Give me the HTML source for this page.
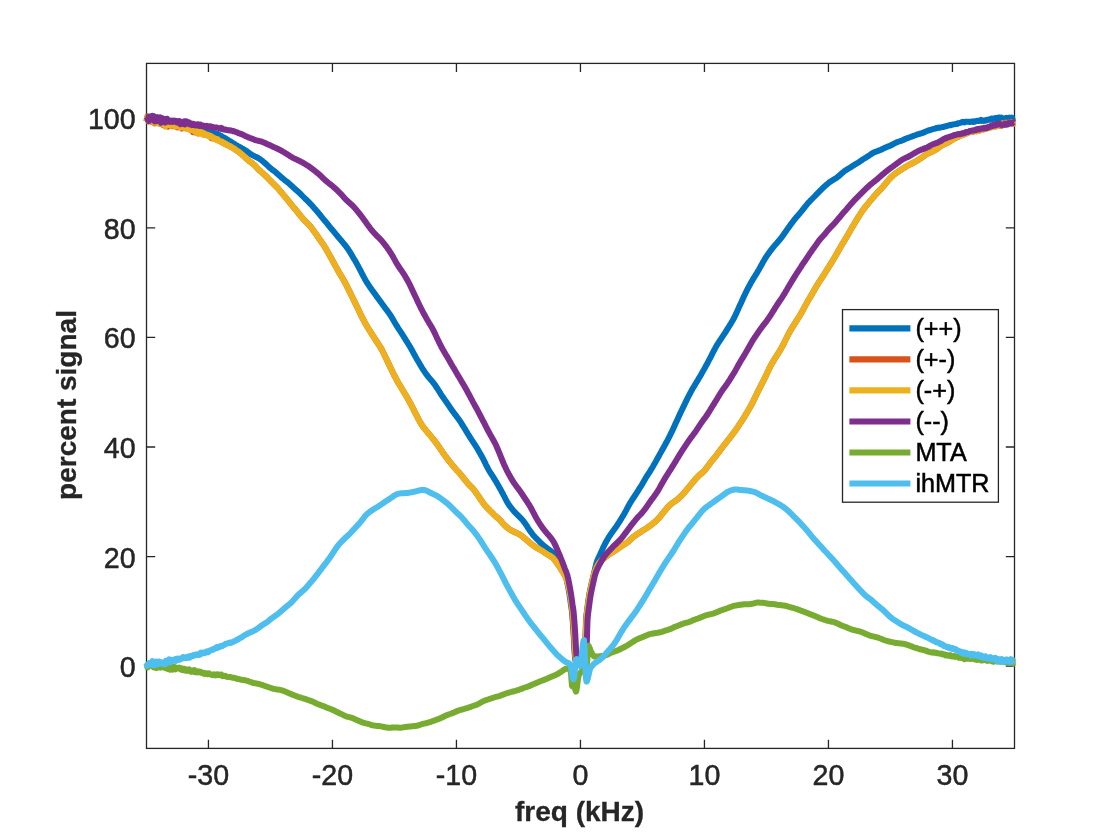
<!DOCTYPE html>
<html lang="en">
<head>
<meta charset="utf-8">
<title>MT spectra</title>
<style>
html,body{margin:0;padding:0;background:#fff;}
body{width:1120px;height:840px;overflow:hidden;}
svg{display:block;}
text{font-family:"Liberation Sans",Arial,Helvetica,sans-serif;}
.tk{font-size:28.6px;fill:#262626;stroke:#262626;stroke-width:0.5px;}
.lb{font-size:28px;font-weight:bold;fill:#262626;stroke:#262626;stroke-width:0.3px;}
.lg{font-size:25.2px;fill:#000;stroke:#000;stroke-width:0.5px;}
</style>
</head>
<body>
<svg width="1120" height="840" viewBox="0 0 1120 840">
<rect x="0" y="0" width="1120" height="840" fill="#fff"/>
<g stroke="#262626" stroke-width="1.3" fill="none" stroke-linecap="butt">
<rect x="146.5" y="63.4" width="868.0" height="685.0"/>
<path d="M208.45,748.4 v-8.7 M208.45,63.4 v8.7"/>
<path d="M332.45,748.4 v-8.7 M332.45,63.4 v8.7"/>
<path d="M456.45,748.4 v-8.7 M456.45,63.4 v8.7"/>
<path d="M580.45,748.4 v-8.7 M580.45,63.4 v8.7"/>
<path d="M704.45,748.4 v-8.7 M704.45,63.4 v8.7"/>
<path d="M828.45,748.4 v-8.7 M828.45,63.4 v8.7"/>
<path d="M952.45,748.4 v-8.7 M952.45,63.4 v8.7"/>
<path d="M146.5,666.20 h8.7 M1014.5,666.20 h-8.7"/>
<path d="M146.5,556.60 h8.7 M1014.5,556.60 h-8.7"/>
<path d="M146.5,447.00 h8.7 M1014.5,447.00 h-8.7"/>
<path d="M146.5,337.40 h8.7 M1014.5,337.40 h-8.7"/>
<path d="M146.5,227.80 h8.7 M1014.5,227.80 h-8.7"/>
<path d="M146.5,118.20 h8.7 M1014.5,118.20 h-8.7"/>
</g>
<defs><clipPath id="plotclip"><rect x="142.6" y="60" width="873.0" height="692"/></clipPath></defs>
<g fill="none" stroke-width="6.0" stroke-linejoin="round" stroke-linecap="butt" clip-path="url(#plotclip)">
<path stroke="#0072BD" d="M146.5,119.2 147.0,118.2 147.5,118.0 148.0,119.1 148.5,120.0 149.0,119.1 149.5,118.2 150.0,116.7 150.5,117.6 151.0,117.7 151.5,120.0 152.0,115.9 152.5,119.2 153.0,118.0 153.5,119.2 154.0,116.3 154.5,118.5 155.0,119.5 155.5,119.0 156.0,120.2 156.5,119.8 157.0,119.7 157.5,118.1 158.0,119.2 158.5,119.1 159.0,119.9 159.5,123.6 160.0,120.0 160.5,121.2 161.0,121.1 161.5,121.5 162.0,121.5 162.5,118.4 163.0,120.8 163.5,119.1 164.0,119.3 164.5,122.1 165.0,120.9 165.5,119.9 166.0,119.8 166.5,121.4 167.0,119.4 167.5,123.0 168.0,122.2 168.5,122.6 169.0,122.9 169.5,122.6 170.0,123.0 170.5,121.4 171.0,122.0 171.5,121.1 172.0,123.7 172.5,122.3 173.0,122.7 173.5,121.6 174.0,122.1 174.5,122.3 175.0,122.0 175.5,122.0 176.0,124.0 176.5,122.9 177.0,123.8 177.5,123.7 178.0,123.5 178.5,123.8 179.0,125.0 179.5,124.5 180.0,123.7 180.5,124.0 181.0,124.3 181.5,124.1 182.0,126.0 182.5,125.1 183.0,126.4 183.5,124.6 184.0,124.8 184.5,126.9 185.0,124.2 185.5,124.8 186.0,124.7 186.5,125.3 187.0,125.7 187.5,126.3 188.0,126.5 188.5,125.5 189.0,126.0 189.5,125.0 190.0,126.4 190.5,125.1 191.0,127.2 191.5,125.0 192.0,126.8 192.5,126.6 193.0,125.9 193.5,128.0 194.0,126.5 194.5,128.3 195.0,127.1 195.5,127.5 196.0,126.3 196.5,127.3 197.0,128.0 197.5,127.7 198.0,127.9 198.5,127.8 199.0,128.5 199.5,128.4 200.0,130.3 200.5,128.6 201.0,129.2 201.5,129.6 202.0,129.4 202.5,129.8 203.0,129.1 203.5,129.4 204.0,129.4 204.5,129.3 205.0,130.6 205.5,130.3 206.0,129.3 206.5,130.6 207.0,131.4 207.5,130.9 208.0,131.3 208.5,131.5 209.0,131.6 209.5,131.2 210.0,131.5 210.5,131.8 211.0,132.5 211.5,132.1 212.0,131.7 212.5,132.9 213.0,132.6 213.5,132.8 214.0,132.9 214.5,133.7 215.0,133.4 215.5,133.6 216.0,134.2 216.5,134.1 217.0,134.0 217.5,133.8 218.0,134.9 218.5,135.6 219.0,134.7 219.5,135.0 220.0,135.5 220.5,136.1 221.0,136.3 221.5,136.1 222.0,136.7 222.5,137.4 223.0,137.1 223.5,137.9 224.0,137.6 224.5,138.0 225.0,138.5 225.5,138.7 226.0,138.5 226.5,139.4 227.0,139.6 227.5,140.1 228.0,139.8 228.5,140.6 229.0,140.7 229.5,141.4 230.0,141.1 230.5,141.5 231.0,141.9 231.5,142.1 232.0,142.7 232.5,143.0 233.0,142.9 233.5,143.5 234.0,143.9 234.5,144.2 235.0,144.3 235.5,144.8 236.0,145.1 236.5,145.3 237.0,145.7 237.5,145.8 238.0,146.3 238.5,146.5 239.0,146.9 239.5,146.8 240.0,147.3 240.5,147.6 241.0,147.9 241.5,148.1 242.0,148.5 242.5,148.7 243.0,148.9 243.5,149.3 244.0,149.6 244.5,149.8 245.0,150.1 245.5,150.4 246.0,150.8 246.5,151.1 247.0,151.3 247.5,151.8 248.0,152.0 248.5,152.5 249.0,152.8 249.5,153.2 250.0,153.5 250.5,153.9 251.0,154.3 251.5,154.5 252.0,154.9 252.5,155.2 253.0,155.5 253.5,155.7 254.0,156.0 254.5,156.3 255.0,156.5 255.5,156.7 256.0,156.9 256.5,157.2 257.0,157.4 257.5,157.6 258.0,157.9 258.5,158.2 259.0,158.5 259.5,158.8 260.0,159.1 261.0,159.9 262.0,160.6 263.0,161.5 264.0,162.3 265.0,163.2 266.0,164.1 267.0,165.0 268.0,166.0 269.0,166.9 270.0,167.8 271.0,168.7 272.0,169.5 273.0,170.2 274.0,170.9 275.0,171.7 276.0,172.5 277.0,173.4 278.0,174.3 279.0,175.2 280.0,176.1 281.0,177.0 282.0,177.9 283.0,178.7 284.0,179.5 285.0,180.3 286.0,181.1 287.0,181.8 288.0,182.6 289.0,183.5 290.0,184.3 291.0,185.3 292.0,186.2 293.0,187.2 294.0,188.1 295.0,189.0 296.0,189.9 297.0,190.7 298.0,191.6 299.0,192.5 300.0,193.4 301.0,194.4 302.0,195.5 303.0,196.5 304.0,197.5 305.0,198.5 306.0,199.4 307.0,200.4 308.0,201.3 309.0,202.3 310.0,203.4 311.0,204.5 312.0,205.6 313.0,206.7 314.0,207.9 315.0,209.0 316.0,210.1 317.0,211.3 318.0,212.4 319.0,213.7 320.0,214.9 321.0,216.2 322.0,217.4 323.0,218.6 324.0,219.8 325.0,221.0 326.0,222.2 327.0,223.4 328.0,224.6 329.0,225.9 330.0,227.1 331.0,228.3 332.0,229.5 333.0,230.7 334.0,231.9 335.0,233.1 336.0,234.3 337.0,235.5 338.0,236.8 339.0,237.9 340.0,239.1 341.0,240.3 342.0,241.4 343.0,242.6 344.0,243.8 345.0,245.0 346.0,246.3 347.0,247.7 348.0,249.1 349.0,250.6 350.0,252.2 351.0,253.8 352.0,255.5 353.0,257.2 354.0,258.9 355.0,260.6 356.0,262.3 357.0,264.1 358.0,265.9 359.0,267.8 360.0,269.7 361.0,271.7 362.0,273.6 363.0,275.5 364.0,277.4 365.0,279.2 366.0,281.0 367.0,282.6 368.0,284.2 369.0,285.7 370.0,287.2 371.0,288.6 372.0,290.0 373.0,291.3 374.0,292.7 375.0,294.1 376.0,295.5 377.0,296.9 378.0,298.2 379.0,299.6 380.0,300.9 381.0,302.3 382.0,303.7 383.0,305.1 384.0,306.4 385.0,307.8 386.0,309.1 387.0,310.4 388.0,311.8 389.0,313.2 390.0,314.6 391.0,316.2 392.0,317.8 393.0,319.5 394.0,321.2 395.0,322.9 396.0,324.6 397.0,326.2 398.0,327.8 399.0,329.3 400.0,330.8 401.0,332.3 402.0,333.9 403.0,335.5 404.0,337.1 405.0,338.7 406.0,340.3 407.0,341.9 408.0,343.5 409.0,345.1 410.0,346.8 411.0,348.5 412.0,350.3 413.0,352.1 414.0,354.0 415.0,355.8 416.0,357.6 417.0,359.4 418.0,361.1 419.0,362.8 420.0,364.5 421.0,366.2 422.0,367.8 423.0,369.3 424.0,370.9 425.0,372.4 426.0,373.8 427.0,375.2 428.0,376.5 429.0,377.7 430.0,378.8 431.0,380.0 432.0,381.1 433.0,382.3 434.0,383.6 435.0,385.0 436.0,386.5 437.0,388.0 438.0,389.5 439.0,391.1 440.0,392.7 441.0,394.3 442.0,395.8 443.0,397.3 444.0,398.7 445.0,400.2 446.0,401.6 447.0,403.0 448.0,404.4 449.0,405.9 450.0,407.4 451.0,408.8 452.0,410.3 453.0,411.7 454.0,413.0 455.0,414.3 456.0,415.6 457.0,417.0 458.0,418.3 459.0,419.7 460.0,421.2 461.0,422.7 462.0,424.3 463.0,425.9 464.0,427.5 465.0,429.1 466.0,430.8 467.0,432.4 468.0,434.1 469.0,435.7 470.0,437.3 471.0,438.9 472.0,440.4 473.0,441.9 474.0,443.4 475.0,444.9 476.0,446.5 477.0,448.1 478.0,449.8 479.0,451.5 480.0,453.2 481.0,455.0 482.0,456.8 483.0,458.7 484.0,460.7 485.0,462.7 486.0,464.8 487.0,466.7 488.0,468.6 489.0,470.4 490.0,472.1 491.0,473.6 492.0,475.2 493.0,476.7 494.0,478.3 495.0,479.9 496.0,481.6 497.0,483.3 498.0,485.1 499.0,486.8 500.0,488.6 501.0,490.3 502.0,492.2 503.0,494.0 504.0,496.0 505.0,497.9 506.0,499.9 507.0,501.7 508.0,503.4 509.0,505.0 510.0,506.4 511.0,507.7 512.0,508.9 513.0,510.1 514.0,511.3 515.0,512.4 516.0,513.4 517.0,514.4 518.0,515.4 519.0,516.3 520.0,517.3 521.0,518.3 522.0,519.4 523.0,520.6 524.0,521.9 525.0,523.3 526.0,524.7 527.0,526.2 528.0,527.8 529.0,529.3 530.0,530.8 531.0,532.2 532.0,533.5 533.0,534.8 534.0,536.0 535.0,537.1 536.0,538.1 537.0,539.2 538.0,540.2 539.0,541.2 540.0,542.2 541.0,543.1 542.0,544.1 543.0,545.0 544.0,545.8 545.0,546.6 546.0,547.4 547.0,548.2 548.0,548.9 549.0,549.7 550.0,550.4 551.0,551.2 552.0,552.0 553.0,552.6 554.0,553.2 555.0,553.9 556.0,554.5 557.0,555.3 558.0,556.3 559.0,557.5 560.0,559.3 560.2,559.8 560.4,560.3 560.6,560.8 560.8,561.4 561.0,561.9 561.0,561.9 561.2,562.5 561.4,563.1 561.6,563.7 561.8,564.3 562.0,564.9 562.0,564.9 562.2,565.5 562.4,566.2 562.6,566.7 562.8,567.3 563.0,567.9 563.0,567.9 563.2,568.5 563.4,569.0 563.6,569.5 563.8,570.0 564.0,570.5 564.0,570.5 564.2,571.0 564.4,571.4 564.6,571.9 564.8,572.4 565.0,572.9 565.0,572.9 565.2,573.5 565.4,574.1 565.6,574.7 565.8,575.4 566.0,576.1 566.0,576.1 566.2,577.0 566.4,577.8 566.6,578.8 566.8,579.7 567.0,580.7 567.0,580.7 567.2,581.7 567.4,582.8 567.6,583.8 567.8,584.8 568.0,585.8 568.0,585.8 568.2,586.9 568.4,588.0 568.6,589.1 568.8,590.2 569.0,591.4 569.0,591.4 569.2,592.6 569.4,593.8 569.6,595.0 569.8,596.4 570.0,597.7 570.0,597.7 570.2,599.2 570.4,600.7 570.6,602.2 570.8,603.6 571.0,605.0 571.0,605.0 571.2,606.2 571.4,607.4 571.6,608.8 571.8,610.3 572.0,611.8 572.0,611.8 572.2,614.0 572.4,616.3 572.6,618.8 572.8,621.4 573.0,624.1 573.0,624.1 573.2,627.1 573.4,630.2 573.6,633.5 573.8,637.1 574.0,640.6 574.0,640.6 574.2,644.7 574.4,648.7 574.6,652.0 574.8,654.5 575.0,657.0 575.0,657.0 575.2,658.5 575.4,660.0 575.6,660.9 575.8,661.2 576.0,661.6 576.0,661.6 576.2,661.8 576.4,662.1 576.6,662.3 576.8,662.5 577.0,662.7 577.0,662.7 577.2,662.9 577.4,663.1 577.6,663.2 577.8,663.3 578.0,663.5 578.0,663.5 578.2,663.6 578.4,663.7 578.6,663.7 578.8,663.8 579.0,663.9 579.0,663.9 579.2,663.9 579.4,664.0 579.6,664.0 579.8,664.0 580.0,664.0 580.0,664.0 580.2,664.0 580.4,664.0 580.6,664.0 580.8,663.9 581.0,663.9 581.0,663.9 581.2,663.8 581.4,663.8 581.6,663.7 581.8,663.6 582.0,663.5 582.0,663.5 582.2,663.4 582.4,663.2 582.6,663.1 582.8,662.9 583.0,662.7 583.0,662.7 583.2,662.5 583.4,662.3 583.6,662.0 583.8,661.7 584.0,661.5 584.0,661.5 584.2,660.8 584.4,660.1 584.6,658.2 584.8,655.1 585.0,651.9 585.0,651.9 585.2,645.8 585.4,639.6 585.6,633.2 585.8,626.6 586.0,620.0 586.0,620.0 586.2,617.8 586.4,615.6 586.6,613.8 586.8,612.3 587.0,610.8 587.0,610.8 587.2,609.2 587.4,607.6 587.6,606.0 587.8,604.5 588.0,603.0 588.0,603.0 588.2,601.6 588.4,600.1 588.6,598.8 588.8,597.5 589.0,596.2 589.0,596.2 589.2,595.0 589.4,593.9 589.6,592.8 589.8,591.8 590.0,590.7 590.0,590.7 590.2,589.8 590.4,588.8 590.6,587.9 590.8,587.0 591.0,586.1 591.0,586.1 591.2,585.2 591.4,584.3 591.6,583.4 591.8,582.6 592.0,581.7 592.0,581.7 592.2,580.9 592.4,580.1 592.6,579.3 592.8,578.5 593.0,577.7 593.0,577.7 593.2,576.9 593.4,576.1 593.6,575.2 593.8,574.4 594.0,573.6 594.0,573.6 594.2,572.7 594.4,571.8 594.6,570.9 594.8,570.0 595.0,569.1 595.0,569.1 595.2,568.2 595.4,567.2 595.6,566.4 595.8,565.5 596.0,564.7 596.0,564.7 596.2,564.0 596.4,563.3 596.6,562.6 596.8,562.0 597.0,561.4 597.0,561.4 597.2,560.9 597.4,560.4 597.6,559.8 597.8,559.4 598.0,558.9 598.0,558.9 598.2,558.4 598.4,558.0 598.6,557.5 598.8,557.1 599.0,556.7 599.0,556.7 599.2,556.2 599.4,555.8 599.6,555.4 599.8,555.0 600.0,554.6 600.0,554.6 600.2,554.1 600.4,553.7 600.6,553.3 600.8,552.8 601.0,552.4 601.0,552.4 601.2,552.0 601.4,551.5 601.6,551.1 601.8,550.7 602.0,550.3 603.0,547.8 604.0,545.8 605.0,543.9 606.0,542.0 607.0,540.2 608.0,538.5 609.0,536.8 610.0,535.3 611.0,533.8 612.0,532.4 613.0,531.1 614.0,529.7 615.0,528.3 616.0,526.9 617.0,525.5 618.0,523.9 619.0,522.4 620.0,520.8 621.0,519.2 622.0,517.5 623.0,515.9 624.0,514.2 625.0,512.4 626.0,510.6 627.0,508.7 628.0,506.8 629.0,505.0 630.0,503.2 631.0,501.6 632.0,500.0 633.0,498.5 634.0,497.0 635.0,495.5 636.0,494.0 637.0,492.4 638.0,490.8 639.0,489.2 640.0,487.6 641.0,486.1 642.0,484.5 643.0,482.8 644.0,481.1 645.0,479.3 646.0,477.6 647.0,475.9 648.0,474.3 649.0,472.8 650.0,471.3 651.0,469.7 652.0,468.1 653.0,466.4 654.0,464.6 655.0,462.9 656.0,461.1 657.0,459.3 658.0,457.5 659.0,455.7 660.0,453.9 661.0,452.1 662.0,450.3 663.0,448.5 664.0,446.7 665.0,444.9 666.0,443.0 667.0,441.2 668.0,439.3 669.0,437.3 670.0,435.4 671.0,433.3 672.0,431.3 673.0,429.2 674.0,427.0 675.0,424.8 676.0,422.6 677.0,420.4 678.0,418.2 679.0,416.0 680.0,413.9 681.0,411.8 682.0,409.7 683.0,407.6 684.0,405.6 685.0,403.5 686.0,401.4 687.0,399.4 688.0,397.3 689.0,395.4 690.0,393.5 691.0,391.6 692.0,389.8 693.0,388.1 694.0,386.4 695.0,384.7 696.0,383.0 697.0,381.4 698.0,379.8 699.0,378.1 700.0,376.4 701.0,374.7 702.0,372.9 703.0,371.1 704.0,369.4 705.0,367.6 706.0,365.8 707.0,364.0 708.0,362.1 709.0,360.2 710.0,358.3 711.0,356.3 712.0,354.3 713.0,352.4 714.0,350.5 715.0,348.6 716.0,346.8 717.0,345.1 718.0,343.4 719.0,341.9 720.0,340.3 721.0,338.9 722.0,337.4 723.0,335.9 724.0,334.4 725.0,332.9 726.0,331.3 727.0,329.7 728.0,328.1 729.0,326.5 730.0,324.9 731.0,323.3 732.0,321.6 733.0,319.9 734.0,318.0 735.0,316.0 736.0,313.9 737.0,311.8 738.0,309.6 739.0,307.3 740.0,305.1 741.0,302.9 742.0,300.7 743.0,298.5 744.0,296.3 745.0,294.2 746.0,292.2 747.0,290.2 748.0,288.2 749.0,286.3 750.0,284.5 751.0,282.6 752.0,280.9 753.0,279.2 754.0,277.6 755.0,276.0 756.0,274.4 757.0,272.8 758.0,271.1 759.0,269.4 760.0,267.6 761.0,265.8 762.0,264.0 763.0,262.1 764.0,260.4 765.0,258.7 766.0,257.1 767.0,255.6 768.0,254.2 769.0,252.8 770.0,251.4 771.0,250.1 772.0,248.8 773.0,247.5 774.0,246.3 775.0,245.1 776.0,244.0 777.0,242.9 778.0,241.7 779.0,240.6 780.0,239.4 781.0,238.1 782.0,236.8 783.0,235.4 784.0,234.0 785.0,232.6 786.0,231.2 787.0,229.7 788.0,228.3 789.0,226.9 790.0,225.5 791.0,224.1 792.0,222.8 793.0,221.5 794.0,220.2 795.0,218.9 796.0,217.7 797.0,216.5 798.0,215.4 799.0,214.3 800.0,213.1 801.0,211.9 802.0,210.7 803.0,209.4 804.0,208.1 805.0,206.8 806.0,205.6 807.0,204.4 808.0,203.2 809.0,202.1 810.0,201.1 811.0,200.0 812.0,199.0 813.0,198.0 814.0,197.0 815.0,196.0 816.0,194.9 817.0,193.9 818.0,192.9 819.0,191.8 820.0,190.8 821.0,189.8 822.0,188.8 823.0,187.8 824.0,186.9 825.0,186.0 826.0,185.2 827.0,184.3 828.0,183.5 829.0,182.7 830.0,181.9 831.0,181.3 832.0,180.6 833.0,180.0 834.0,179.4 835.0,178.8 836.0,178.2 837.0,177.5 838.0,176.7 839.0,175.9 840.0,175.0 841.0,174.1 842.0,173.1 843.0,172.3 844.0,171.5 845.0,170.7 846.0,170.1 847.0,169.5 848.0,168.9 849.0,168.3 850.0,167.7 851.0,167.0 852.0,166.4 853.0,165.7 854.0,165.1 855.0,164.5 856.0,163.9 857.0,163.3 858.0,162.7 859.0,162.1 860.0,161.4 861.0,160.7 862.0,160.0 863.0,159.3 864.0,158.7 865.0,158.1 866.0,157.5 867.0,156.9 868.0,156.2 869.0,155.6 870.0,154.9 871.0,154.2 872.0,153.5 873.0,153.0 874.0,152.4 875.0,152.0 876.0,151.6 877.0,151.3 878.0,150.9 879.0,150.5 880.0,150.1 881.0,149.7 882.0,149.2 883.0,148.7 884.0,148.3 885.0,147.8 886.0,147.4 887.0,146.9 888.0,146.5 889.0,146.1 890.0,145.7 891.0,145.2 892.0,144.7 893.0,144.2 894.0,143.6 895.0,143.1 896.0,142.6 897.0,142.2 898.0,141.8 899.0,141.5 900.0,141.2 900.5,141.0 901.0,140.9 901.5,140.7 902.0,140.5 902.5,140.3 903.0,140.1 903.5,139.8 904.0,139.6 904.5,139.4 905.0,139.1 905.5,138.9 906.0,138.7 906.5,138.5 907.0,138.3 907.5,138.1 908.0,137.9 908.5,137.7 909.0,137.5 909.5,137.4 910.0,137.2 910.5,137.0 911.0,136.8 911.5,136.7 912.0,136.5 912.5,136.3 913.0,136.1 913.5,135.9 914.0,135.7 914.5,135.5 915.0,135.4 915.5,135.1 916.0,135.0 916.5,134.8 917.0,134.6 917.5,134.4 918.0,134.3 918.5,134.1 919.0,134.0 919.5,133.8 920.0,133.7 920.5,133.6 921.0,133.4 921.5,133.2 922.0,133.1 922.5,132.9 923.0,132.7 923.5,132.6 924.0,132.4 924.5,132.1 925.0,131.9 925.5,131.7 926.0,131.4 926.5,131.3 927.0,131.0 927.5,130.8 928.0,130.6 928.5,130.6 929.0,130.2 929.5,130.1 930.0,130.1 930.5,129.9 931.0,129.6 931.5,129.5 932.0,129.4 932.5,129.2 933.0,129.1 933.5,129.0 934.0,128.7 934.5,128.7 935.0,128.6 935.5,128.5 936.0,128.1 936.5,128.2 937.0,128.1 937.5,127.8 938.0,127.8 938.5,127.8 939.0,127.6 939.5,127.7 940.0,127.6 940.5,127.5 941.0,127.3 941.5,127.3 942.0,127.1 942.5,127.0 943.0,126.9 943.5,126.9 944.0,126.7 944.5,126.5 945.0,126.4 945.5,126.4 946.0,126.1 946.5,126.2 947.0,125.9 947.5,125.7 948.0,125.6 948.5,125.5 949.0,125.3 949.5,125.3 950.0,125.1 950.5,124.9 951.0,125.1 951.5,124.7 952.0,124.7 952.5,124.5 953.0,124.4 953.5,124.5 954.0,124.2 954.5,124.2 955.0,124.1 955.5,124.0 956.0,123.9 956.5,124.0 957.0,123.8 957.5,123.8 958.0,123.3 958.5,123.2 959.0,123.3 959.5,123.0 960.0,122.9 960.5,122.7 961.0,122.5 961.5,122.4 962.0,122.3 962.5,121.9 963.0,122.2 963.5,122.1 964.0,122.0 964.5,122.3 965.0,121.8 965.5,121.8 966.0,121.9 966.5,121.8 967.0,121.8 967.5,121.7 968.0,121.8 968.5,121.8 969.0,121.8 969.5,122.0 970.0,122.0 970.5,121.8 971.0,121.7 971.5,121.6 972.0,121.8 972.5,121.9 973.0,121.6 973.5,121.3 974.0,121.8 974.5,121.5 975.0,121.7 975.5,121.3 976.0,121.1 976.5,121.1 977.0,120.8 977.5,120.8 978.0,120.9 978.5,120.8 979.0,120.7 979.5,120.9 980.0,120.8 980.5,120.5 981.0,119.9 981.5,120.3 982.0,120.8 982.5,120.4 983.0,120.5 983.5,120.4 984.0,120.8 984.5,120.4 985.0,120.6 985.5,120.2 986.0,120.3 986.5,120.4 987.0,119.7 987.5,119.7 988.0,119.8 988.5,119.7 989.0,119.7 989.5,119.3 990.0,119.6 990.5,119.8 991.0,119.4 991.5,118.7 992.0,119.0 992.5,119.5 993.0,118.6 993.5,118.6 994.0,118.5 994.5,118.8 995.0,118.8 995.5,118.2 996.0,119.1 996.5,118.2 997.0,118.6 997.5,118.3 998.0,118.3 998.5,117.6 999.0,117.6 999.5,118.6 1000.0,117.6 1000.5,118.4 1001.0,118.4 1001.5,117.8 1002.0,118.7 1002.5,118.3 1003.0,118.7 1003.5,118.5 1004.0,118.7 1004.5,118.9 1005.0,118.9 1005.5,118.1 1006.0,118.8 1006.5,118.8 1007.0,117.9 1007.5,118.7 1008.0,118.0 1008.5,118.1 1009.0,118.5 1009.5,117.7 1010.0,118.7 1010.5,118.2 1011.0,118.4 1011.5,119.0 1012.0,117.7 1012.5,118.8 1013.0,118.5 1013.5,119.0 1014.0,118.5 1014.3,117.8"/>
<path stroke="#D95319" d="M146.5,121.4 147.0,118.1 147.5,116.3 148.0,118.1 148.5,121.5 149.0,119.7 149.5,119.1 150.0,119.9 150.5,120.2 151.0,121.2 151.5,120.2 152.0,121.9 152.5,119.7 153.0,120.5 153.5,120.0 154.0,120.9 154.5,123.5 155.0,119.1 155.5,119.4 156.0,120.6 156.5,122.8 157.0,121.9 157.5,120.7 158.0,121.9 158.5,120.3 159.0,120.6 159.5,121.2 160.0,122.7 160.5,121.8 161.0,122.4 161.5,123.8 162.0,122.0 162.5,124.1 163.0,121.7 163.5,125.3 164.0,121.6 164.5,121.1 165.0,123.7 165.5,123.4 166.0,124.6 166.5,124.9 167.0,122.6 167.5,124.2 168.0,126.8 168.5,124.0 169.0,126.1 169.5,124.6 170.0,124.2 170.5,123.5 171.0,124.0 171.5,123.2 172.0,126.2 172.5,124.7 173.0,124.2 173.5,125.8 174.0,124.2 174.5,125.7 175.0,126.1 175.5,126.4 176.0,126.0 176.5,127.0 177.0,125.8 177.5,126.6 178.0,127.3 178.5,126.5 179.0,127.2 179.5,124.4 180.0,127.0 180.5,127.1 181.0,126.6 181.5,127.6 182.0,128.5 182.5,127.5 183.0,127.7 183.5,126.9 184.0,126.8 184.5,127.3 185.0,126.5 185.5,127.4 186.0,128.2 186.5,127.6 187.0,127.6 187.5,127.4 188.0,128.9 188.5,128.3 189.0,128.5 189.5,129.0 190.0,129.6 190.5,128.5 191.0,129.1 191.5,130.4 192.0,129.6 192.5,130.5 193.0,132.1 193.5,129.9 194.0,131.1 194.5,131.6 195.0,132.3 195.5,131.6 196.0,131.0 196.5,131.3 197.0,132.0 197.5,131.3 198.0,133.5 198.5,132.0 199.0,133.3 199.5,133.1 200.0,132.9 200.5,133.2 201.0,132.4 201.5,133.0 202.0,133.6 202.5,133.5 203.0,133.8 203.5,133.8 204.0,134.4 204.5,133.6 205.0,134.3 205.5,134.8 206.0,134.4 206.5,134.5 207.0,135.3 207.5,135.5 208.0,135.1 208.5,135.3 209.0,136.0 209.5,136.5 210.0,136.1 210.5,136.3 211.0,137.1 211.5,138.2 212.0,137.3 212.5,137.4 213.0,137.5 213.5,138.5 214.0,138.2 214.5,137.9 215.0,138.3 215.5,138.5 216.0,139.0 216.5,139.4 217.0,139.8 217.5,139.5 218.0,140.2 218.5,139.8 219.0,140.6 219.5,140.7 220.0,141.1 220.5,140.8 221.0,141.3 221.5,141.7 222.0,142.4 222.5,142.4 223.0,142.9 223.5,143.0 224.0,143.5 224.5,143.5 225.0,144.1 225.5,144.1 226.0,144.2 226.5,144.8 227.0,145.0 227.5,145.0 228.0,145.5 228.5,145.3 229.0,145.9 229.5,145.7 230.0,146.4 230.5,146.3 231.0,146.8 231.5,147.1 232.0,147.3 232.5,147.4 233.0,147.9 233.5,148.2 234.0,148.7 234.5,148.9 235.0,149.2 235.5,149.8 236.0,149.9 236.5,150.4 237.0,150.3 237.5,150.8 238.0,151.3 238.5,151.6 239.0,152.0 239.5,152.5 240.0,153.0 240.5,153.3 241.0,153.6 241.5,154.0 242.0,154.5 242.5,155.2 243.0,155.4 243.5,155.9 244.0,156.4 244.5,157.0 245.0,157.3 245.5,157.9 246.0,158.3 246.5,158.7 247.0,159.2 247.5,159.6 248.0,160.0 248.5,160.4 249.0,160.9 249.5,161.3 250.0,161.6 250.5,161.9 251.0,162.3 251.5,162.7 252.0,163.0 252.5,163.4 253.0,163.9 253.5,164.2 254.0,164.7 254.5,165.2 255.0,165.7 255.5,166.2 256.0,166.7 256.5,167.2 257.0,167.8 257.5,168.3 258.0,168.8 258.5,169.3 259.0,169.8 259.5,170.3 260.0,170.7 261.0,171.7 262.0,172.5 263.0,173.4 264.0,174.3 265.0,175.3 266.0,176.2 267.0,177.2 268.0,178.3 269.0,179.3 270.0,180.3 271.0,181.4 272.0,182.4 273.0,183.4 274.0,184.4 275.0,185.4 276.0,186.4 277.0,187.4 278.0,188.4 279.0,189.6 280.0,190.8 281.0,192.0 282.0,193.2 283.0,194.4 284.0,195.6 285.0,196.7 286.0,197.9 287.0,199.1 288.0,200.3 289.0,201.6 290.0,202.9 291.0,204.2 292.0,205.4 293.0,206.6 294.0,207.8 295.0,209.0 296.0,210.2 297.0,211.4 298.0,212.7 299.0,214.0 300.0,215.2 301.0,216.5 302.0,217.6 303.0,218.8 304.0,219.9 305.0,220.9 306.0,221.9 307.0,222.9 308.0,223.9 309.0,224.9 310.0,226.0 311.0,227.2 312.0,228.5 313.0,229.9 314.0,231.3 315.0,232.7 316.0,234.1 317.0,235.5 318.0,237.0 319.0,238.4 320.0,239.8 321.0,241.3 322.0,242.7 323.0,244.2 324.0,245.7 325.0,247.3 326.0,248.9 327.0,250.7 328.0,252.4 329.0,254.2 330.0,256.0 331.0,257.8 332.0,259.6 333.0,261.4 334.0,263.2 335.0,265.1 336.0,266.9 337.0,268.8 338.0,270.5 339.0,272.3 340.0,273.9 341.0,275.6 342.0,277.2 343.0,278.9 344.0,280.7 345.0,282.5 346.0,284.5 347.0,286.4 348.0,288.4 349.0,290.4 350.0,292.4 351.0,294.5 352.0,296.5 353.0,298.5 354.0,300.6 355.0,302.6 356.0,304.7 357.0,306.7 358.0,308.8 359.0,310.9 360.0,313.0 361.0,315.1 362.0,317.1 363.0,319.0 364.0,320.9 365.0,322.8 366.0,324.6 367.0,326.3 368.0,328.0 369.0,329.6 370.0,331.2 371.0,332.7 372.0,334.3 373.0,335.9 374.0,337.4 375.0,339.0 376.0,340.5 377.0,342.0 378.0,343.5 379.0,345.0 380.0,346.6 381.0,348.2 382.0,350.0 383.0,352.0 384.0,354.0 385.0,356.1 386.0,358.2 387.0,360.3 388.0,362.4 389.0,364.5 390.0,366.6 391.0,368.7 392.0,370.7 393.0,372.8 394.0,374.8 395.0,376.7 396.0,378.6 397.0,380.4 398.0,382.2 399.0,383.9 400.0,385.6 401.0,387.3 402.0,389.0 403.0,390.6 404.0,392.3 405.0,394.0 406.0,395.6 407.0,397.3 408.0,399.1 409.0,400.8 410.0,402.7 411.0,404.5 412.0,406.5 413.0,408.4 414.0,410.4 415.0,412.3 416.0,414.3 417.0,416.2 418.0,418.2 419.0,420.1 420.0,421.9 421.0,423.6 422.0,425.2 423.0,426.7 424.0,428.0 425.0,429.2 426.0,430.4 427.0,431.6 428.0,432.8 429.0,434.0 430.0,435.2 431.0,436.4 432.0,437.6 433.0,438.8 434.0,440.1 435.0,441.4 436.0,442.7 437.0,444.1 438.0,445.5 439.0,446.9 440.0,448.4 441.0,449.9 442.0,451.3 443.0,452.8 444.0,454.2 445.0,455.6 446.0,456.9 447.0,458.3 448.0,459.6 449.0,460.9 450.0,462.2 451.0,463.4 452.0,464.7 453.0,465.8 454.0,467.0 455.0,468.2 456.0,469.3 457.0,470.5 458.0,471.5 459.0,472.6 460.0,473.7 461.0,474.9 462.0,476.1 463.0,477.4 464.0,478.7 465.0,480.0 466.0,481.2 467.0,482.4 468.0,483.6 469.0,484.6 470.0,485.6 471.0,486.6 472.0,487.6 473.0,488.7 474.0,490.0 475.0,491.3 476.0,492.7 477.0,494.2 478.0,495.6 479.0,497.0 480.0,498.5 481.0,499.9 482.0,501.3 483.0,502.7 484.0,504.1 485.0,505.4 486.0,506.6 487.0,507.7 488.0,508.7 489.0,509.7 490.0,510.7 491.0,511.6 492.0,512.6 493.0,513.7 494.0,514.7 495.0,515.6 496.0,516.5 497.0,517.4 498.0,518.2 499.0,519.1 500.0,520.1 501.0,521.2 502.0,522.4 503.0,523.5 504.0,524.6 505.0,525.6 506.0,526.5 507.0,527.4 508.0,528.2 509.0,528.9 510.0,529.6 511.0,530.2 512.0,530.7 513.0,531.2 514.0,531.7 515.0,532.2 516.0,532.6 517.0,533.1 518.0,533.6 519.0,534.1 520.0,534.7 521.0,535.4 522.0,536.2 523.0,537.0 524.0,537.8 525.0,538.6 526.0,539.5 527.0,540.3 528.0,541.2 529.0,542.0 530.0,542.9 531.0,543.7 532.0,544.5 533.0,545.3 534.0,546.0 535.0,546.7 536.0,547.3 537.0,547.9 538.0,548.5 539.0,549.0 540.0,549.6 541.0,550.1 542.0,550.8 543.0,551.4 544.0,552.2 545.0,552.9 546.0,553.5 547.0,554.1 548.0,554.7 549.0,555.3 550.0,555.8 551.0,556.5 552.0,557.2 553.0,558.0 554.0,559.1 555.0,560.3 556.0,561.6 557.0,563.1 558.0,564.6 559.0,565.8 560.0,567.5 560.2,567.8 560.4,568.2 560.6,568.5 560.8,568.8 561.0,569.2 561.0,569.2 561.2,569.5 561.4,569.8 561.6,570.1 561.8,570.5 562.0,570.8 562.0,570.8 562.2,571.1 562.4,571.4 562.6,571.7 562.8,572.0 563.0,572.3 563.0,572.3 563.2,572.6 563.4,572.9 563.6,573.2 563.8,573.6 564.0,573.9 564.0,573.9 564.2,574.3 564.4,574.6 564.6,575.0 564.8,575.3 565.0,575.7 565.0,575.7 565.2,576.1 565.4,576.6 565.6,577.0 565.8,577.5 566.0,578.0 566.0,578.0 566.2,578.5 566.4,579.0 566.6,579.6 566.8,580.2 567.0,580.8 567.0,580.8 567.2,581.5 567.4,582.1 567.6,582.8 567.8,583.5 568.0,584.3 568.0,584.3 568.2,585.0 568.4,585.8 568.6,586.6 568.8,587.5 569.0,588.3 569.0,588.3 569.2,589.3 569.4,590.2 569.6,591.2 569.8,592.3 570.0,593.3 570.0,593.3 570.2,594.4 570.4,595.5 570.6,596.6 570.8,597.7 571.0,598.8 571.0,598.8 571.2,600.3 571.4,601.8 571.6,604.0 571.8,607.0 572.0,610.0 572.0,610.0 572.2,612.3 572.4,614.6 572.6,616.9 572.8,619.1 573.0,621.3 573.0,621.3 573.2,624.2 573.4,627.1 573.6,630.2 573.8,633.5 574.0,636.7 574.0,636.7 574.2,640.8 574.4,644.8 574.6,648.5 574.8,651.7 575.0,655.0 575.0,655.0 575.2,656.9 575.4,658.7 575.6,660.0 575.8,660.6 576.0,661.3 576.0,661.3 576.2,661.6 576.4,661.8 576.6,662.1 576.8,662.3 577.0,662.5 577.0,662.5 577.2,662.7 577.4,662.9 577.6,663.0 577.8,663.2 578.0,663.3 578.0,663.3 578.2,663.4 578.4,663.5 578.6,663.6 578.8,663.7 579.0,663.8 579.0,663.8 579.2,663.9 579.4,663.9 579.6,663.9 579.8,664.0 580.0,664.0 580.0,664.0 580.2,664.0 580.4,664.0 580.6,664.0 580.8,664.0 581.0,663.9 581.0,663.9 581.2,663.9 581.4,663.9 581.6,663.8 581.8,663.7 582.0,663.6 582.0,663.6 582.2,663.5 582.4,663.4 582.6,663.3 582.8,663.1 583.0,663.0 583.0,663.0 583.2,662.8 583.4,662.6 583.6,662.4 583.8,662.1 584.0,661.9 584.0,661.9 584.2,661.6 584.4,661.3 584.6,660.4 584.8,658.8 585.0,657.3 585.0,657.3 585.2,653.4 585.4,649.5 585.6,643.8 585.8,636.1 586.0,628.4 586.0,628.4 586.2,624.0 586.4,619.6 586.6,616.5 586.8,614.7 587.0,613.0 587.0,613.0 587.2,611.5 587.4,609.9 587.6,608.4 587.8,606.8 588.0,605.3 588.0,605.3 588.2,603.8 588.4,602.3 588.6,600.8 588.8,599.5 589.0,598.1 589.0,598.1 589.2,596.9 589.4,595.6 589.6,594.5 589.8,593.4 590.0,592.3 590.0,592.3 590.2,591.3 590.4,590.3 590.6,589.3 590.8,588.4 591.0,587.4 591.0,587.4 591.2,586.5 591.4,585.6 591.6,584.7 591.8,583.8 592.0,582.9 592.0,582.9 592.2,582.0 592.4,581.1 592.6,580.2 592.8,579.3 593.0,578.5 593.0,578.5 593.2,577.6 593.4,576.8 593.6,576.0 593.8,575.3 594.0,574.5 594.0,574.5 594.2,573.9 594.4,573.3 594.6,572.7 594.8,572.2 595.0,571.6 595.0,571.6 595.2,571.1 595.4,570.5 595.6,570.0 595.8,569.5 596.0,569.0 596.0,569.0 596.2,568.5 596.4,568.1 596.6,567.6 596.8,567.2 597.0,566.7 597.0,566.7 597.2,566.3 597.4,565.9 597.6,565.5 597.8,565.2 598.0,564.8 598.0,564.8 598.2,564.4 598.4,564.1 598.6,563.8 598.8,563.5 599.0,563.2 599.0,563.2 599.2,562.9 599.4,562.6 599.6,562.4 599.8,562.1 600.0,561.9 600.0,561.9 600.2,561.6 600.4,561.4 600.6,561.2 600.8,561.0 601.0,560.7 601.0,560.7 601.2,560.5 601.4,560.3 601.6,560.1 601.8,559.9 602.0,559.7 603.0,559.1 604.0,558.3 605.0,557.5 606.0,556.7 607.0,555.9 608.0,555.1 609.0,554.4 610.0,553.8 611.0,553.1 612.0,552.5 613.0,551.9 614.0,551.3 615.0,550.6 616.0,550.0 617.0,549.3 618.0,548.6 619.0,547.9 620.0,547.2 621.0,546.5 622.0,545.8 623.0,545.2 624.0,544.5 625.0,543.9 626.0,543.3 627.0,542.6 628.0,541.9 629.0,541.0 630.0,540.1 631.0,539.1 632.0,538.2 633.0,537.2 634.0,536.4 635.0,535.7 636.0,535.0 637.0,534.3 638.0,533.7 639.0,533.0 640.0,532.4 641.0,531.7 642.0,531.0 643.0,530.4 644.0,529.8 645.0,529.2 646.0,528.6 647.0,527.9 648.0,527.2 649.0,526.5 650.0,525.8 651.0,525.0 652.0,524.3 653.0,523.5 654.0,522.6 655.0,521.8 656.0,520.8 657.0,519.9 658.0,518.9 659.0,517.8 660.0,516.7 661.0,515.5 662.0,514.2 663.0,513.0 664.0,511.7 665.0,510.5 666.0,509.3 667.0,508.1 668.0,506.9 669.0,505.9 670.0,504.9 671.0,504.1 672.0,503.3 673.0,502.6 674.0,501.9 675.0,501.2 676.0,500.5 677.0,499.7 678.0,498.9 679.0,498.0 680.0,497.1 681.0,496.2 682.0,495.1 683.0,494.1 684.0,492.9 685.0,491.8 686.0,490.6 687.0,489.3 688.0,488.1 689.0,486.9 690.0,485.7 691.0,484.5 692.0,483.3 693.0,482.1 694.0,480.9 695.0,479.7 696.0,478.6 697.0,477.5 698.0,476.4 699.0,475.5 700.0,474.6 701.0,473.7 702.0,472.9 703.0,472.0 704.0,471.0 705.0,469.9 706.0,468.7 707.0,467.3 708.0,466.0 709.0,464.6 710.0,463.3 711.0,462.0 712.0,460.7 713.0,459.5 714.0,458.3 715.0,457.1 716.0,455.8 717.0,454.5 718.0,453.2 719.0,451.9 720.0,450.5 721.0,449.1 722.0,447.8 723.0,446.5 724.0,445.2 725.0,444.0 726.0,442.7 727.0,441.5 728.0,440.2 729.0,438.9 730.0,437.6 731.0,436.3 732.0,435.0 733.0,433.7 734.0,432.4 735.0,431.0 736.0,429.6 737.0,428.2 738.0,426.7 739.0,425.2 740.0,423.7 741.0,422.2 742.0,420.7 743.0,419.1 744.0,417.5 745.0,415.8 746.0,414.1 747.0,412.4 748.0,410.7 749.0,409.0 750.0,407.3 751.0,405.5 752.0,403.7 753.0,401.7 754.0,399.7 755.0,397.6 756.0,395.5 757.0,393.4 758.0,391.3 759.0,389.3 760.0,387.3 761.0,385.4 762.0,383.5 763.0,381.6 764.0,379.6 765.0,377.6 766.0,375.5 767.0,373.3 768.0,371.2 769.0,369.1 770.0,367.1 771.0,365.2 772.0,363.4 773.0,361.7 774.0,360.0 775.0,358.4 776.0,356.8 777.0,355.2 778.0,353.6 779.0,352.1 780.0,350.4 781.0,348.7 782.0,346.9 783.0,345.0 784.0,343.1 785.0,341.0 786.0,339.0 787.0,337.0 788.0,335.0 789.0,333.1 790.0,331.3 791.0,329.6 792.0,327.9 793.0,326.3 794.0,324.7 795.0,323.1 796.0,321.5 797.0,320.0 798.0,318.4 799.0,316.9 800.0,315.2 801.0,313.5 802.0,311.8 803.0,309.9 804.0,308.1 805.0,306.2 806.0,304.4 807.0,302.6 808.0,300.8 809.0,299.1 810.0,297.5 811.0,295.8 812.0,294.0 813.0,292.3 814.0,290.5 815.0,288.8 816.0,287.1 817.0,285.4 818.0,283.8 819.0,282.2 820.0,280.7 821.0,279.2 822.0,277.7 823.0,276.1 824.0,274.6 825.0,273.0 826.0,271.4 827.0,269.7 828.0,268.1 829.0,266.5 830.0,264.9 831.0,263.3 832.0,261.7 833.0,260.1 834.0,258.4 835.0,256.7 836.0,255.0 837.0,253.2 838.0,251.5 839.0,249.7 840.0,248.0 841.0,246.2 842.0,244.5 843.0,242.9 844.0,241.3 845.0,239.6 846.0,238.0 847.0,236.3 848.0,234.6 849.0,232.9 850.0,231.1 851.0,229.3 852.0,227.6 853.0,225.9 854.0,224.2 855.0,222.5 856.0,220.9 857.0,219.3 858.0,217.7 859.0,216.1 860.0,214.5 861.0,212.9 862.0,211.4 863.0,210.0 864.0,208.6 865.0,207.3 866.0,206.0 867.0,204.8 868.0,203.6 869.0,202.4 870.0,201.2 871.0,200.0 872.0,198.9 873.0,197.7 874.0,196.5 875.0,195.3 876.0,194.2 877.0,193.1 878.0,192.0 879.0,190.9 880.0,189.9 881.0,188.9 882.0,187.8 883.0,186.7 884.0,185.5 885.0,184.3 886.0,183.0 887.0,181.8 888.0,180.5 889.0,179.4 890.0,178.3 891.0,177.3 892.0,176.4 893.0,175.5 894.0,174.7 895.0,173.9 896.0,173.2 897.0,172.4 898.0,171.7 899.0,171.1 900.0,170.4 900.5,170.1 901.0,169.8 901.5,169.5 902.0,169.1 902.5,168.8 903.0,168.5 903.5,168.2 904.0,167.9 904.5,167.6 905.0,167.2 905.5,166.9 906.0,166.6 906.5,166.3 907.0,166.0 907.5,165.7 908.0,165.5 908.5,165.2 909.0,164.9 909.5,164.7 910.0,164.4 910.5,164.2 911.0,163.9 911.5,163.7 912.0,163.4 912.5,163.2 913.0,162.9 913.5,162.7 914.0,162.4 914.5,162.1 915.0,161.8 915.5,161.5 916.0,161.2 916.5,161.0 917.0,160.7 917.5,160.4 918.0,160.1 918.5,159.8 919.0,159.4 919.5,159.1 920.0,158.8 920.5,158.5 921.0,158.2 921.5,157.8 922.0,157.4 922.5,157.1 923.0,156.7 923.5,156.4 924.0,156.0 924.5,155.7 925.0,155.3 925.5,155.0 926.0,154.6 926.5,154.3 927.0,154.0 927.5,153.7 928.0,153.4 928.5,153.2 929.0,153.0 929.5,152.9 930.0,152.5 930.5,152.3 931.0,152.1 931.5,151.9 932.0,151.7 932.5,151.4 933.0,151.3 933.5,150.8 934.0,150.6 934.5,150.4 935.0,150.1 935.5,149.8 936.0,149.4 936.5,149.2 937.0,148.9 937.5,148.5 938.0,148.2 938.5,147.7 939.0,147.3 939.5,147.0 940.0,146.7 940.5,146.2 941.0,146.0 941.5,145.6 942.0,145.3 942.5,145.0 943.0,144.8 943.5,144.6 944.0,144.3 944.5,143.9 945.0,143.9 945.5,143.4 946.0,143.2 946.5,143.2 947.0,143.1 947.5,142.6 948.0,142.5 948.5,142.1 949.0,141.8 949.5,141.6 950.0,141.4 950.5,140.9 951.0,140.5 951.5,140.2 952.0,140.1 952.5,139.6 953.0,139.2 953.5,138.8 954.0,138.7 954.5,138.5 955.0,138.4 955.5,138.0 956.0,137.5 956.5,137.6 957.0,137.0 957.5,136.9 958.0,136.8 958.5,136.4 959.0,135.9 959.5,136.1 960.0,135.6 960.5,135.4 961.0,135.4 961.5,135.0 962.0,134.8 962.5,135.1 963.0,134.4 963.5,134.8 964.0,134.5 964.5,134.2 965.0,134.1 965.5,134.0 966.0,133.3 966.5,133.3 967.0,133.0 967.5,133.1 968.0,133.0 968.5,132.5 969.0,132.0 969.5,132.0 970.0,132.1 970.5,131.8 971.0,131.4 971.5,131.5 972.0,131.5 972.5,131.3 973.0,130.9 973.5,131.5 974.0,131.0 974.5,130.9 975.0,130.7 975.5,130.7 976.0,130.6 976.5,131.0 977.0,130.5 977.5,130.7 978.0,130.6 978.5,130.3 979.0,130.7 979.5,130.5 980.0,130.1 980.5,129.6 981.0,129.5 981.5,129.5 982.0,129.5 982.5,129.6 983.0,129.2 983.5,129.2 984.0,128.9 984.5,129.1 985.0,128.6 985.5,128.2 986.0,128.6 986.5,128.4 987.0,128.3 987.5,128.1 988.0,127.4 988.5,127.7 989.0,127.8 989.5,127.1 990.0,127.4 990.5,126.7 991.0,126.7 991.5,127.1 992.0,126.1 992.5,126.2 993.0,126.4 993.5,126.5 994.0,126.4 994.5,126.4 995.0,125.5 995.5,126.3 996.0,125.6 996.5,126.0 997.0,125.5 997.5,125.7 998.0,125.7 998.5,125.9 999.0,125.7 999.5,125.8 1000.0,125.1 1000.5,124.6 1001.0,124.3 1001.5,125.6 1002.0,124.6 1002.5,124.2 1003.0,124.3 1003.5,123.5 1004.0,123.9 1004.5,124.5 1005.0,123.3 1005.5,122.4 1006.0,122.8 1006.5,123.5 1007.0,123.6 1007.5,123.4 1008.0,123.4 1008.5,123.2 1009.0,122.7 1009.5,122.8 1010.0,122.8 1010.5,122.9 1011.0,122.9 1011.5,122.2 1012.0,122.8 1012.5,122.6 1013.0,122.7 1013.5,123.4 1014.0,122.2 1014.3,123.0"/>
<path stroke="#EDB120" d="M146.5,121.3 147.0,117.9 147.5,117.6 148.0,118.6 148.5,117.7 149.0,121.3 149.5,120.6 150.0,120.4 150.5,121.6 151.0,119.2 151.5,118.4 152.0,120.7 152.5,120.8 153.0,119.5 153.5,121.3 154.0,122.6 154.5,120.3 155.0,121.3 155.5,121.7 156.0,122.0 156.5,122.7 157.0,122.3 157.5,123.4 158.0,120.9 158.5,121.4 159.0,122.9 159.5,121.6 160.0,121.5 160.5,122.1 161.0,122.7 161.5,121.8 162.0,123.1 162.5,124.1 163.0,120.9 163.5,120.5 164.0,123.9 164.5,122.5 165.0,125.0 165.5,126.6 166.0,123.7 166.5,123.6 167.0,124.1 167.5,124.5 168.0,124.3 168.5,123.5 169.0,124.8 169.5,122.5 170.0,124.9 170.5,124.7 171.0,125.8 171.5,124.8 172.0,125.2 172.5,123.9 173.0,125.0 173.5,125.7 174.0,126.0 174.5,125.3 175.0,126.7 175.5,126.6 176.0,125.0 176.5,123.6 177.0,124.9 177.5,126.0 178.0,126.2 178.5,125.9 179.0,125.9 179.5,126.9 180.0,126.0 180.5,124.9 181.0,126.4 181.5,127.5 182.0,126.1 182.5,127.4 183.0,127.4 183.5,127.0 184.0,127.4 184.5,126.6 185.0,127.4 185.5,128.5 186.0,127.5 186.5,126.9 187.0,128.8 187.5,127.0 188.0,129.2 188.5,128.3 189.0,128.8 189.5,128.8 190.0,128.8 190.5,129.8 191.0,129.3 191.5,129.1 192.0,129.9 192.5,129.0 193.0,130.3 193.5,129.6 194.0,130.9 194.5,131.6 195.0,131.7 195.5,131.5 196.0,130.2 196.5,131.7 197.0,132.8 197.5,131.9 198.0,132.7 198.5,132.2 199.0,133.5 199.5,131.7 200.0,132.7 200.5,132.9 201.0,133.5 201.5,133.3 202.0,133.5 202.5,132.4 203.0,134.6 203.5,133.8 204.0,133.6 204.5,134.7 205.0,133.7 205.5,134.5 206.0,135.0 206.5,135.1 207.0,135.1 207.5,135.1 208.0,135.0 208.5,135.8 209.0,135.4 209.5,136.6 210.0,136.7 210.5,136.6 211.0,136.1 211.5,137.4 212.0,137.6 212.5,137.2 213.0,137.7 213.5,138.1 214.0,138.6 214.5,138.4 215.0,138.5 215.5,138.9 216.0,138.9 216.5,140.0 217.0,140.3 217.5,139.2 218.0,140.0 218.5,140.8 219.0,141.0 219.5,141.3 220.0,141.4 220.5,141.4 221.0,141.6 221.5,142.2 222.0,142.2 222.5,141.9 223.0,142.7 223.5,142.5 224.0,143.4 224.5,143.6 225.0,143.7 225.5,144.1 226.0,143.9 226.5,144.4 227.0,144.6 227.5,145.0 228.0,145.2 228.5,145.5 229.0,145.7 229.5,145.7 230.0,146.0 230.5,146.7 231.0,146.6 231.5,147.0 232.0,147.5 232.5,147.6 233.0,148.3 233.5,148.1 234.0,148.5 234.5,148.6 235.0,149.4 235.5,149.6 236.0,150.0 236.5,150.4 237.0,150.9 237.5,151.1 238.0,151.3 238.5,151.6 239.0,152.2 239.5,152.2 240.0,152.8 240.5,153.1 241.0,153.6 241.5,154.2 242.0,154.4 242.5,154.9 243.0,155.5 243.5,155.8 244.0,156.4 244.5,156.8 245.0,157.3 245.5,157.8 246.0,158.3 246.5,158.8 247.0,159.2 247.5,159.7 248.0,160.1 248.5,160.5 249.0,160.9 249.5,161.3 250.0,161.6 250.5,162.0 251.0,162.3 251.5,162.7 252.0,163.1 252.5,163.4 253.0,163.9 253.5,164.3 254.0,164.7 254.5,165.2 255.0,165.7 255.5,166.2 256.0,166.7 256.5,167.2 257.0,167.8 257.5,168.3 258.0,168.8 258.5,169.3 259.0,169.8 259.5,170.3 260.0,170.7 261.0,171.7 262.0,172.5 263.0,173.4 264.0,174.3 265.0,175.3 266.0,176.2 267.0,177.2 268.0,178.3 269.0,179.3 270.0,180.3 271.0,181.4 272.0,182.4 273.0,183.4 274.0,184.4 275.0,185.4 276.0,186.4 277.0,187.4 278.0,188.4 279.0,189.6 280.0,190.8 281.0,192.0 282.0,193.2 283.0,194.4 284.0,195.6 285.0,196.7 286.0,197.9 287.0,199.1 288.0,200.3 289.0,201.6 290.0,202.9 291.0,204.2 292.0,205.4 293.0,206.6 294.0,207.8 295.0,209.0 296.0,210.2 297.0,211.4 298.0,212.7 299.0,214.0 300.0,215.2 301.0,216.5 302.0,217.6 303.0,218.8 304.0,219.9 305.0,220.9 306.0,221.9 307.0,222.9 308.0,223.9 309.0,224.9 310.0,226.0 311.0,227.2 312.0,228.5 313.0,229.9 314.0,231.3 315.0,232.7 316.0,234.1 317.0,235.5 318.0,237.0 319.0,238.4 320.0,239.8 321.0,241.3 322.0,242.7 323.0,244.2 324.0,245.7 325.0,247.3 326.0,248.9 327.0,250.7 328.0,252.4 329.0,254.2 330.0,256.0 331.0,257.8 332.0,259.6 333.0,261.4 334.0,263.2 335.0,265.1 336.0,266.9 337.0,268.8 338.0,270.5 339.0,272.3 340.0,273.9 341.0,275.6 342.0,277.2 343.0,278.9 344.0,280.7 345.0,282.5 346.0,284.5 347.0,286.4 348.0,288.4 349.0,290.4 350.0,292.4 351.0,294.5 352.0,296.5 353.0,298.5 354.0,300.6 355.0,302.6 356.0,304.7 357.0,306.7 358.0,308.8 359.0,310.9 360.0,313.0 361.0,315.1 362.0,317.1 363.0,319.0 364.0,320.9 365.0,322.8 366.0,324.6 367.0,326.3 368.0,328.0 369.0,329.6 370.0,331.2 371.0,332.7 372.0,334.3 373.0,335.9 374.0,337.4 375.0,339.0 376.0,340.5 377.0,342.0 378.0,343.5 379.0,345.0 380.0,346.6 381.0,348.2 382.0,350.0 383.0,352.0 384.0,354.0 385.0,356.1 386.0,358.2 387.0,360.3 388.0,362.4 389.0,364.5 390.0,366.6 391.0,368.7 392.0,370.7 393.0,372.8 394.0,374.8 395.0,376.7 396.0,378.6 397.0,380.4 398.0,382.2 399.0,383.9 400.0,385.6 401.0,387.3 402.0,389.0 403.0,390.6 404.0,392.3 405.0,394.0 406.0,395.6 407.0,397.3 408.0,399.1 409.0,400.8 410.0,402.7 411.0,404.5 412.0,406.5 413.0,408.4 414.0,410.4 415.0,412.3 416.0,414.3 417.0,416.2 418.0,418.2 419.0,420.1 420.0,421.9 421.0,423.6 422.0,425.2 423.0,426.7 424.0,428.0 425.0,429.2 426.0,430.4 427.0,431.6 428.0,432.8 429.0,434.0 430.0,435.2 431.0,436.4 432.0,437.6 433.0,438.8 434.0,440.1 435.0,441.4 436.0,442.7 437.0,444.1 438.0,445.5 439.0,446.9 440.0,448.4 441.0,449.9 442.0,451.3 443.0,452.8 444.0,454.2 445.0,455.6 446.0,456.9 447.0,458.3 448.0,459.6 449.0,460.9 450.0,462.2 451.0,463.4 452.0,464.7 453.0,465.8 454.0,467.0 455.0,468.2 456.0,469.3 457.0,470.5 458.0,471.5 459.0,472.6 460.0,473.7 461.0,474.9 462.0,476.1 463.0,477.4 464.0,478.7 465.0,480.0 466.0,481.2 467.0,482.4 468.0,483.6 469.0,484.6 470.0,485.6 471.0,486.6 472.0,487.6 473.0,488.7 474.0,490.0 475.0,491.3 476.0,492.7 477.0,494.2 478.0,495.6 479.0,497.0 480.0,498.5 481.0,499.9 482.0,501.3 483.0,502.7 484.0,504.1 485.0,505.4 486.0,506.6 487.0,507.7 488.0,508.7 489.0,509.7 490.0,510.7 491.0,511.6 492.0,512.6 493.0,513.7 494.0,514.7 495.0,515.6 496.0,516.5 497.0,517.4 498.0,518.2 499.0,519.1 500.0,520.1 501.0,521.2 502.0,522.4 503.0,523.5 504.0,524.6 505.0,525.6 506.0,526.5 507.0,527.4 508.0,528.2 509.0,528.9 510.0,529.6 511.0,530.2 512.0,530.7 513.0,531.2 514.0,531.7 515.0,532.2 516.0,532.6 517.0,533.1 518.0,533.6 519.0,534.1 520.0,534.7 521.0,535.4 522.0,536.2 523.0,537.0 524.0,537.8 525.0,538.6 526.0,539.5 527.0,540.3 528.0,541.2 529.0,542.0 530.0,542.9 531.0,543.7 532.0,544.5 533.0,545.3 534.0,546.0 535.0,546.7 536.0,547.3 537.0,547.9 538.0,548.5 539.0,549.0 540.0,549.6 541.0,550.1 542.0,550.8 543.0,551.4 544.0,552.2 545.0,552.9 546.0,553.5 547.0,554.1 548.0,554.7 549.0,555.3 550.0,555.8 551.0,556.5 552.0,557.2 553.0,558.0 554.0,559.1 555.0,560.3 556.0,561.6 557.0,563.1 558.0,564.6 559.0,565.8 560.0,567.5 560.2,567.8 560.4,568.2 560.6,568.5 560.8,568.8 561.0,569.2 561.0,569.2 561.2,569.5 561.4,569.8 561.6,570.1 561.8,570.5 562.0,570.8 562.0,570.8 562.2,571.1 562.4,571.4 562.6,571.7 562.8,572.0 563.0,572.3 563.0,572.3 563.2,572.6 563.4,572.9 563.6,573.2 563.8,573.6 564.0,573.9 564.0,573.9 564.2,574.3 564.4,574.6 564.6,575.0 564.8,575.3 565.0,575.7 565.0,575.7 565.2,576.1 565.4,576.6 565.6,577.0 565.8,577.5 566.0,578.0 566.0,578.0 566.2,578.5 566.4,579.0 566.6,579.6 566.8,580.2 567.0,580.8 567.0,580.8 567.2,581.5 567.4,582.1 567.6,582.8 567.8,583.5 568.0,584.3 568.0,584.3 568.2,585.0 568.4,585.8 568.6,586.6 568.8,587.5 569.0,588.3 569.0,588.3 569.2,589.3 569.4,590.2 569.6,591.2 569.8,592.3 570.0,593.3 570.0,593.3 570.2,594.5 570.4,595.7 570.6,597.0 570.8,598.4 571.0,599.8 571.0,599.8 571.2,601.3 571.4,602.9 571.6,604.3 571.8,605.6 572.0,606.9 572.0,606.9 572.2,608.1 572.4,609.4 572.6,611.0 572.8,613.0 573.0,615.0 573.0,615.0 573.2,617.5 573.4,620.0 573.6,622.8 573.8,625.7 574.0,628.6 574.0,628.6 574.2,631.8 574.4,635.1 574.6,638.8 574.8,642.8 575.0,646.8 575.0,646.8 575.2,650.1 575.4,653.4 575.6,655.9 575.8,657.8 576.0,659.6 576.0,659.6 576.2,660.3 576.4,661.0 576.6,661.5 576.8,661.8 577.0,662.0 577.0,662.0 577.2,662.3 577.4,662.5 577.6,662.7 577.8,662.9 578.0,663.1 578.0,663.1 578.2,663.2 578.4,663.4 578.6,663.5 578.8,663.6 579.0,663.7 579.0,663.7 579.2,663.8 579.4,663.9 579.6,663.9 579.8,664.0 580.0,664.0 580.0,664.0 580.2,664.0 580.4,664.0 580.6,664.0 580.8,664.0 581.0,663.9 581.0,663.9 581.2,663.9 581.4,663.9 581.6,663.8 581.8,663.7 582.0,663.6 582.0,663.6 582.2,663.5 582.4,663.4 582.6,663.3 582.8,663.1 583.0,663.0 583.0,663.0 583.2,662.8 583.4,662.6 583.6,662.4 583.8,662.1 584.0,661.9 584.0,661.9 584.2,661.6 584.4,661.3 584.6,660.4 584.8,658.8 585.0,657.3 585.0,657.3 585.2,653.4 585.4,649.5 585.6,643.8 585.8,636.1 586.0,628.4 586.0,628.4 586.2,624.0 586.4,619.6 586.6,616.5 586.8,614.7 587.0,613.0 587.0,613.0 587.2,611.5 587.4,609.9 587.6,608.4 587.8,606.8 588.0,605.3 588.0,605.3 588.2,603.8 588.4,602.3 588.6,600.8 588.8,599.5 589.0,598.1 589.0,598.1 589.2,596.9 589.4,595.6 589.6,594.5 589.8,593.4 590.0,592.3 590.0,592.3 590.2,591.3 590.4,590.3 590.6,589.3 590.8,588.4 591.0,587.4 591.0,587.4 591.2,586.5 591.4,585.6 591.6,584.7 591.8,583.8 592.0,582.9 592.0,582.9 592.2,582.0 592.4,581.1 592.6,580.2 592.8,579.3 593.0,578.5 593.0,578.5 593.2,577.6 593.4,576.8 593.6,576.0 593.8,575.3 594.0,574.5 594.0,574.5 594.2,573.9 594.4,573.3 594.6,572.7 594.8,572.2 595.0,571.6 595.0,571.6 595.2,571.1 595.4,570.5 595.6,570.0 595.8,569.5 596.0,569.0 596.0,569.0 596.2,568.5 596.4,568.1 596.6,567.6 596.8,567.2 597.0,566.7 597.0,566.7 597.2,566.3 597.4,565.9 597.6,565.5 597.8,565.2 598.0,564.8 598.0,564.8 598.2,564.4 598.4,564.1 598.6,563.8 598.8,563.5 599.0,563.2 599.0,563.2 599.2,562.9 599.4,562.6 599.6,562.4 599.8,562.1 600.0,561.9 600.0,561.9 600.2,561.6 600.4,561.4 600.6,561.2 600.8,561.0 601.0,560.7 601.0,560.7 601.2,560.5 601.4,560.3 601.6,560.1 601.8,559.9 602.0,559.7 603.0,559.1 604.0,558.3 605.0,557.5 606.0,556.7 607.0,555.9 608.0,555.1 609.0,554.4 610.0,553.8 611.0,553.1 612.0,552.5 613.0,551.9 614.0,551.3 615.0,550.6 616.0,550.0 617.0,549.3 618.0,548.6 619.0,547.9 620.0,547.2 621.0,546.5 622.0,545.8 623.0,545.2 624.0,544.5 625.0,543.9 626.0,543.3 627.0,542.6 628.0,541.9 629.0,541.0 630.0,540.1 631.0,539.1 632.0,538.2 633.0,537.2 634.0,536.4 635.0,535.7 636.0,535.0 637.0,534.3 638.0,533.7 639.0,533.0 640.0,532.4 641.0,531.7 642.0,531.0 643.0,530.4 644.0,529.8 645.0,529.2 646.0,528.6 647.0,527.9 648.0,527.2 649.0,526.5 650.0,525.8 651.0,525.0 652.0,524.3 653.0,523.5 654.0,522.6 655.0,521.8 656.0,520.8 657.0,519.9 658.0,518.9 659.0,517.8 660.0,516.7 661.0,515.5 662.0,514.2 663.0,513.0 664.0,511.7 665.0,510.5 666.0,509.3 667.0,508.1 668.0,506.9 669.0,505.9 670.0,504.9 671.0,504.1 672.0,503.3 673.0,502.6 674.0,501.9 675.0,501.2 676.0,500.5 677.0,499.7 678.0,498.9 679.0,498.0 680.0,497.1 681.0,496.2 682.0,495.1 683.0,494.1 684.0,492.9 685.0,491.8 686.0,490.6 687.0,489.3 688.0,488.1 689.0,486.9 690.0,485.7 691.0,484.5 692.0,483.3 693.0,482.1 694.0,480.9 695.0,479.7 696.0,478.6 697.0,477.5 698.0,476.4 699.0,475.5 700.0,474.6 701.0,473.7 702.0,472.9 703.0,472.0 704.0,471.0 705.0,469.9 706.0,468.7 707.0,467.3 708.0,466.0 709.0,464.6 710.0,463.3 711.0,462.0 712.0,460.7 713.0,459.5 714.0,458.3 715.0,457.1 716.0,455.8 717.0,454.5 718.0,453.2 719.0,451.9 720.0,450.5 721.0,449.1 722.0,447.8 723.0,446.5 724.0,445.2 725.0,444.0 726.0,442.7 727.0,441.5 728.0,440.2 729.0,438.9 730.0,437.6 731.0,436.3 732.0,435.0 733.0,433.7 734.0,432.4 735.0,431.0 736.0,429.6 737.0,428.2 738.0,426.7 739.0,425.2 740.0,423.7 741.0,422.2 742.0,420.7 743.0,419.1 744.0,417.5 745.0,415.8 746.0,414.1 747.0,412.4 748.0,410.7 749.0,409.0 750.0,407.3 751.0,405.5 752.0,403.7 753.0,401.7 754.0,399.7 755.0,397.6 756.0,395.5 757.0,393.4 758.0,391.3 759.0,389.3 760.0,387.3 761.0,385.4 762.0,383.5 763.0,381.6 764.0,379.6 765.0,377.6 766.0,375.5 767.0,373.3 768.0,371.2 769.0,369.1 770.0,367.1 771.0,365.2 772.0,363.4 773.0,361.7 774.0,360.0 775.0,358.4 776.0,356.8 777.0,355.2 778.0,353.6 779.0,352.1 780.0,350.4 781.0,348.7 782.0,346.9 783.0,345.0 784.0,343.1 785.0,341.0 786.0,339.0 787.0,337.0 788.0,335.0 789.0,333.1 790.0,331.3 791.0,329.6 792.0,327.9 793.0,326.3 794.0,324.7 795.0,323.1 796.0,321.5 797.0,320.0 798.0,318.4 799.0,316.9 800.0,315.2 801.0,313.5 802.0,311.8 803.0,309.9 804.0,308.1 805.0,306.2 806.0,304.4 807.0,302.6 808.0,300.8 809.0,299.1 810.0,297.5 811.0,295.8 812.0,294.0 813.0,292.3 814.0,290.5 815.0,288.8 816.0,287.1 817.0,285.4 818.0,283.8 819.0,282.2 820.0,280.7 821.0,279.2 822.0,277.7 823.0,276.1 824.0,274.6 825.0,273.0 826.0,271.4 827.0,269.7 828.0,268.1 829.0,266.5 830.0,264.9 831.0,263.3 832.0,261.7 833.0,260.1 834.0,258.4 835.0,256.7 836.0,255.0 837.0,253.2 838.0,251.5 839.0,249.7 840.0,248.0 841.0,246.2 842.0,244.5 843.0,242.9 844.0,241.3 845.0,239.6 846.0,238.0 847.0,236.3 848.0,234.6 849.0,232.9 850.0,231.1 851.0,229.3 852.0,227.6 853.0,225.9 854.0,224.2 855.0,222.5 856.0,220.9 857.0,219.3 858.0,217.7 859.0,216.1 860.0,214.5 861.0,212.9 862.0,211.4 863.0,210.0 864.0,208.6 865.0,207.3 866.0,206.0 867.0,204.8 868.0,203.6 869.0,202.4 870.0,201.2 871.0,200.0 872.0,198.9 873.0,197.7 874.0,196.5 875.0,195.3 876.0,194.2 877.0,193.1 878.0,192.0 879.0,190.9 880.0,189.9 881.0,188.9 882.0,187.8 883.0,186.7 884.0,185.5 885.0,184.3 886.0,183.0 887.0,181.8 888.0,180.5 889.0,179.4 890.0,178.3 891.0,177.3 892.0,176.4 893.0,175.5 894.0,174.7 895.0,173.9 896.0,173.2 897.0,172.4 898.0,171.7 899.0,171.1 900.0,170.4 900.5,170.1 901.0,169.8 901.5,169.5 902.0,169.1 902.5,168.8 903.0,168.5 903.5,168.2 904.0,167.9 904.5,167.6 905.0,167.2 905.5,166.9 906.0,166.6 906.5,166.3 907.0,166.1 907.5,165.8 908.0,165.5 908.5,165.2 909.0,164.9 909.5,164.7 910.0,164.4 910.5,164.2 911.0,163.9 911.5,163.7 912.0,163.4 912.5,163.2 913.0,162.9 913.5,162.6 914.0,162.4 914.5,162.1 915.0,161.8 915.5,161.6 916.0,161.2 916.5,161.0 917.0,160.6 917.5,160.4 918.0,160.1 918.5,159.8 919.0,159.4 919.5,159.2 920.0,158.7 920.5,158.5 921.0,158.1 921.5,157.8 922.0,157.5 922.5,157.1 923.0,156.8 923.5,156.4 924.0,156.1 924.5,155.7 925.0,155.2 925.5,154.9 926.0,154.6 926.5,154.2 927.0,154.1 927.5,153.8 928.0,153.5 928.5,153.2 929.0,153.1 929.5,152.7 930.0,152.6 930.5,152.4 931.0,152.0 931.5,152.0 932.0,151.7 932.5,151.4 933.0,151.1 933.5,151.0 934.0,150.7 934.5,150.2 935.0,150.1 935.5,149.8 936.0,149.5 936.5,149.0 937.0,148.8 937.5,148.5 938.0,148.2 938.5,147.8 939.0,147.3 939.5,147.0 940.0,146.6 940.5,146.3 941.0,146.0 941.5,145.6 942.0,145.4 942.5,144.9 943.0,144.6 943.5,144.6 944.0,144.2 944.5,143.9 945.0,143.9 945.5,143.7 946.0,143.2 946.5,143.1 947.0,143.0 947.5,142.9 948.0,142.4 948.5,142.3 949.0,141.9 949.5,141.5 950.0,141.0 950.5,140.9 951.0,140.6 951.5,140.4 952.0,139.9 952.5,139.7 953.0,139.5 953.5,139.3 954.0,138.5 954.5,138.2 955.0,138.1 955.5,137.9 956.0,137.9 956.5,137.0 957.0,137.0 957.5,136.9 958.0,136.5 958.5,136.5 959.0,136.2 959.5,136.2 960.0,135.7 960.5,135.5 961.0,135.5 961.5,135.2 962.0,135.1 962.5,134.8 963.0,135.0 963.5,134.7 964.0,134.4 964.5,134.2 965.0,133.8 965.5,133.9 966.0,133.6 966.5,133.2 967.0,133.2 967.5,132.9 968.0,132.9 968.5,132.6 969.0,132.0 969.5,132.0 970.0,132.1 970.5,131.7 971.0,131.6 971.5,131.7 972.0,131.1 972.5,131.0 973.0,131.3 973.5,131.1 974.0,131.3 974.5,130.7 975.0,130.7 975.5,130.5 976.0,130.9 976.5,131.3 977.0,130.8 977.5,131.1 978.0,130.4 978.5,130.2 979.0,130.8 979.5,130.3 980.0,130.2 980.5,130.2 981.0,130.1 981.5,129.7 982.0,129.7 982.5,129.3 983.0,128.9 983.5,129.2 984.0,128.7 984.5,128.9 985.0,128.3 985.5,128.2 986.0,128.0 986.5,128.4 987.0,128.2 987.5,127.7 988.0,127.8 988.5,127.7 989.0,128.1 989.5,127.3 990.0,127.0 990.5,127.4 991.0,126.5 991.5,127.1 992.0,126.8 992.5,126.1 993.0,126.2 993.5,126.8 994.0,126.7 994.5,126.5 995.0,125.9 995.5,126.1 996.0,125.6 996.5,126.3 997.0,125.4 997.5,125.8 998.0,125.9 998.5,126.0 999.0,125.6 999.5,125.7 1000.0,125.5 1000.5,124.8 1001.0,124.4 1001.5,124.3 1002.0,124.5 1002.5,123.4 1003.0,125.1 1003.5,124.2 1004.0,124.0 1004.5,123.6 1005.0,123.6 1005.5,123.8 1006.0,123.4 1006.5,123.0 1007.0,123.9 1007.5,123.2 1008.0,123.6 1008.5,123.3 1009.0,123.0 1009.5,122.3 1010.0,123.7 1010.5,122.7 1011.0,123.3 1011.5,122.8 1012.0,123.4 1012.5,123.0 1013.0,122.3 1013.5,122.6 1014.0,123.4 1014.3,122.8"/>
<path stroke="#7E2F8E" d="M146.5,116.8 147.0,117.2 147.5,119.0 148.0,120.1 148.5,116.8 149.0,121.1 149.5,119.4 150.0,117.2 150.5,117.3 151.0,118.3 151.5,117.8 152.0,116.6 152.5,116.0 153.0,119.5 153.5,117.4 154.0,120.6 154.5,121.3 155.0,118.2 155.5,120.6 156.0,118.2 156.5,121.3 157.0,119.9 157.5,117.1 158.0,118.5 158.5,118.9 159.0,119.6 159.5,121.0 160.0,117.3 160.5,119.5 161.0,122.9 161.5,119.2 162.0,119.0 162.5,120.0 163.0,118.6 163.5,121.0 164.0,120.5 164.5,121.3 165.0,121.6 165.5,122.5 166.0,120.1 166.5,120.9 167.0,118.7 167.5,121.6 168.0,120.8 168.5,121.1 169.0,120.3 169.5,120.6 170.0,121.8 170.5,120.7 171.0,121.0 171.5,120.7 172.0,120.9 172.5,121.8 173.0,120.6 173.5,120.7 174.0,120.6 174.5,121.0 175.0,121.3 175.5,120.9 176.0,121.2 176.5,122.3 177.0,121.1 177.5,121.3 178.0,122.6 178.5,121.8 179.0,122.4 179.5,121.1 180.0,122.0 180.5,124.3 181.0,123.0 181.5,122.7 182.0,122.9 182.5,122.0 183.0,122.1 183.5,122.8 184.0,123.4 184.5,121.2 185.0,124.5 185.5,122.3 186.0,122.7 186.5,121.3 187.0,122.1 187.5,123.1 188.0,123.4 188.5,122.3 189.0,122.3 189.5,122.7 190.0,124.5 190.5,123.2 191.0,124.3 191.5,124.0 192.0,125.0 192.5,124.5 193.0,123.8 193.5,123.8 194.0,125.0 194.5,124.6 195.0,124.8 195.5,125.4 196.0,124.8 196.5,125.1 197.0,124.4 197.5,124.2 198.0,124.3 198.5,124.6 199.0,125.7 199.5,125.2 200.0,125.0 200.5,124.6 201.0,125.1 201.5,126.0 202.0,125.8 202.5,125.5 203.0,125.4 203.5,126.0 204.0,125.8 204.5,126.3 205.0,126.4 205.5,126.6 206.0,125.9 206.5,125.8 207.0,127.0 207.5,126.0 208.0,126.1 208.5,126.5 209.0,126.8 209.5,126.6 210.0,127.2 210.5,126.3 211.0,126.4 211.5,126.7 212.0,127.3 212.5,127.3 213.0,127.1 213.5,127.6 214.0,127.5 214.5,127.5 215.0,127.4 215.5,127.8 216.0,127.6 216.5,127.8 217.0,127.6 217.5,127.8 218.0,127.9 218.5,127.9 219.0,128.2 219.5,128.2 220.0,128.2 220.5,128.5 221.0,128.0 221.5,128.8 222.0,128.2 222.5,129.0 223.0,129.2 223.5,129.4 224.0,129.3 224.5,129.5 225.0,129.7 225.5,129.6 226.0,129.8 226.5,130.0 227.0,130.0 227.5,130.0 228.0,130.2 228.5,130.2 229.0,130.5 229.5,130.2 230.0,130.3 230.5,130.6 231.0,130.5 231.5,130.5 232.0,130.8 232.5,131.0 233.0,131.2 233.5,131.0 234.0,131.2 234.5,131.5 235.0,131.7 235.5,131.9 236.0,132.0 236.5,132.2 237.0,132.2 237.5,132.6 238.0,133.0 238.5,133.2 239.0,133.3 239.5,133.3 240.0,133.6 240.5,133.9 241.0,133.8 241.5,134.1 242.0,134.4 242.5,134.4 243.0,134.9 243.5,135.0 244.0,135.4 244.5,135.5 245.0,135.8 245.5,136.1 246.0,136.4 246.5,136.5 247.0,136.8 247.5,137.0 248.0,137.1 248.5,137.4 249.0,137.6 249.5,137.8 250.0,137.9 250.5,138.2 251.0,138.3 251.5,138.5 252.0,138.8 252.5,138.9 253.0,139.1 253.5,139.3 254.0,139.5 254.5,139.7 255.0,139.9 255.5,140.1 256.0,140.2 256.5,140.4 257.0,140.5 257.5,140.6 258.0,140.7 258.5,140.8 259.0,140.9 259.5,141.1 260.0,141.2 261.0,141.4 262.0,141.8 263.0,142.1 264.0,142.6 265.0,143.0 266.0,143.5 267.0,144.0 268.0,144.4 269.0,144.9 270.0,145.3 271.0,145.8 272.0,146.2 273.0,146.7 274.0,147.1 275.0,147.6 276.0,148.1 277.0,148.5 278.0,149.0 279.0,149.5 280.0,150.0 281.0,150.5 282.0,151.1 283.0,151.7 284.0,152.3 285.0,152.9 286.0,153.5 287.0,154.1 288.0,154.7 289.0,155.4 290.0,156.1 291.0,156.7 292.0,157.3 293.0,157.9 294.0,158.4 295.0,158.9 296.0,159.3 297.0,159.7 298.0,160.2 299.0,160.6 300.0,161.2 301.0,161.7 302.0,162.3 303.0,162.8 304.0,163.4 305.0,164.0 306.0,164.6 307.0,165.2 308.0,165.8 309.0,166.5 310.0,167.2 311.0,168.0 312.0,168.7 313.0,169.5 314.0,170.2 315.0,171.0 316.0,171.8 317.0,172.6 318.0,173.4 319.0,174.3 320.0,175.2 321.0,176.2 322.0,177.2 323.0,178.1 324.0,179.1 325.0,180.0 326.0,180.9 327.0,181.7 328.0,182.5 329.0,183.3 330.0,184.1 331.0,184.9 332.0,185.7 333.0,186.5 334.0,187.4 335.0,188.3 336.0,189.2 337.0,190.1 338.0,191.1 339.0,192.1 340.0,193.1 341.0,194.1 342.0,195.2 343.0,196.3 344.0,197.5 345.0,198.6 346.0,199.6 347.0,200.6 348.0,201.5 349.0,202.4 350.0,203.3 351.0,204.2 352.0,205.1 353.0,206.1 354.0,207.2 355.0,208.3 356.0,209.4 357.0,210.6 358.0,211.8 359.0,213.1 360.0,214.4 361.0,215.7 362.0,217.0 363.0,218.3 364.0,219.7 365.0,221.1 366.0,222.5 367.0,223.9 368.0,225.3 369.0,226.6 370.0,228.0 371.0,229.3 372.0,230.5 373.0,231.7 374.0,232.8 375.0,233.9 376.0,234.9 377.0,236.0 378.0,236.9 379.0,237.9 380.0,238.9 381.0,240.0 382.0,241.1 383.0,242.3 384.0,243.5 385.0,244.8 386.0,246.1 387.0,247.5 388.0,248.9 389.0,250.3 390.0,251.9 391.0,253.4 392.0,255.1 393.0,256.8 394.0,258.6 395.0,260.4 396.0,262.2 397.0,263.9 398.0,265.5 399.0,267.0 400.0,268.5 401.0,269.9 402.0,271.3 403.0,272.8 404.0,274.3 405.0,276.0 406.0,277.7 407.0,279.5 408.0,281.3 409.0,283.2 410.0,285.2 411.0,287.3 412.0,289.4 413.0,291.5 414.0,293.6 415.0,295.7 416.0,297.8 417.0,300.0 418.0,302.1 419.0,304.2 420.0,306.3 421.0,308.3 422.0,310.2 423.0,312.2 424.0,314.0 425.0,315.8 426.0,317.6 427.0,319.4 428.0,321.1 429.0,322.8 430.0,324.4 431.0,326.1 432.0,327.8 433.0,329.6 434.0,331.6 435.0,333.6 436.0,335.7 437.0,337.9 438.0,340.0 439.0,342.1 440.0,344.2 441.0,346.1 442.0,348.0 443.0,349.8 444.0,351.5 445.0,353.2 446.0,354.9 447.0,356.6 448.0,358.3 449.0,360.0 450.0,361.7 451.0,363.5 452.0,365.2 453.0,366.9 454.0,368.6 455.0,370.3 456.0,372.0 457.0,373.7 458.0,375.4 459.0,377.1 460.0,378.8 461.0,380.5 462.0,382.2 463.0,383.8 464.0,385.5 465.0,387.2 466.0,389.0 467.0,390.8 468.0,392.7 469.0,394.5 470.0,396.4 471.0,398.3 472.0,400.2 473.0,402.1 474.0,403.9 475.0,405.7 476.0,407.5 477.0,409.3 478.0,411.2 479.0,413.1 480.0,415.0 481.0,416.9 482.0,418.8 483.0,420.8 484.0,422.7 485.0,424.7 486.0,426.6 487.0,428.6 488.0,430.5 489.0,432.3 490.0,434.2 491.0,435.9 492.0,437.7 493.0,439.5 494.0,441.3 495.0,443.2 496.0,445.2 497.0,447.4 498.0,449.7 499.0,452.1 500.0,454.6 501.0,457.1 502.0,459.6 503.0,462.0 504.0,464.4 505.0,466.6 506.0,468.7 507.0,470.8 508.0,472.7 509.0,474.6 510.0,476.3 511.0,478.1 512.0,479.7 513.0,481.4 514.0,482.9 515.0,484.3 516.0,485.7 517.0,487.1 518.0,488.4 519.0,489.7 520.0,491.1 521.0,492.5 522.0,494.0 523.0,495.5 524.0,497.0 525.0,498.5 526.0,500.0 527.0,501.5 528.0,503.1 529.0,504.6 530.0,506.3 531.0,508.0 532.0,509.9 533.0,511.8 534.0,513.7 535.0,515.6 536.0,517.5 537.0,519.2 538.0,520.9 539.0,522.5 540.0,524.1 541.0,525.6 542.0,527.0 543.0,528.4 544.0,529.7 545.0,531.0 546.0,532.2 547.0,533.4 548.0,534.5 549.0,535.6 550.0,536.8 551.0,538.0 552.0,539.4 553.0,540.9 554.0,542.6 555.0,544.5 556.0,546.6 557.0,548.9 558.0,551.3 559.0,553.6 560.0,556.0 560.2,556.5 560.4,557.0 560.6,557.5 560.8,558.0 561.0,558.5 561.0,558.5 561.2,559.0 561.4,559.5 561.6,560.0 561.8,560.5 562.0,561.0 562.0,561.0 562.2,561.6 562.4,562.1 562.6,562.6 562.8,563.1 563.0,563.7 563.0,563.7 563.2,564.2 563.4,564.7 563.6,565.3 563.8,565.8 564.0,566.4 564.0,566.4 564.2,566.9 564.4,567.4 564.6,567.9 564.8,568.5 565.0,569.0 565.0,569.0 565.2,569.5 565.4,570.0 565.6,570.5 565.8,571.0 566.0,571.4 566.0,571.4 566.2,571.9 566.4,572.4 566.6,572.9 566.8,573.5 567.0,574.0 567.0,574.0 567.2,574.7 567.4,575.4 567.6,576.1 567.8,577.0 568.0,577.8 568.0,577.8 568.2,578.8 568.4,579.7 568.6,580.7 568.8,581.7 569.0,582.8 569.0,582.8 569.2,583.8 569.4,584.8 569.6,585.9 569.8,586.9 570.0,588.0 570.0,588.0 570.2,589.1 570.4,590.2 570.6,591.4 570.8,592.6 571.0,593.8 571.0,593.8 571.2,595.1 571.4,596.4 571.6,597.7 571.8,599.2 572.0,600.7 572.0,600.7 572.2,602.1 572.4,603.6 572.6,605.0 572.8,606.2 573.0,607.5 573.0,607.5 573.2,608.8 573.4,610.2 573.6,611.9 573.8,614.1 574.0,616.2 574.0,616.2 574.2,618.8 574.4,621.4 574.6,624.2 574.8,627.2 575.0,630.1 575.0,630.1 575.2,633.5 575.4,636.9 575.6,640.7 575.8,644.7 576.0,648.8 576.0,648.8 576.2,651.7 576.4,654.6 576.6,656.9 576.8,658.6 577.0,660.3 577.0,660.3 577.2,660.7 577.4,661.2 577.6,661.6 577.8,661.8 578.0,662.1 578.0,662.1 578.2,662.3 578.4,662.5 578.6,662.7 578.8,662.9 579.0,663.1 579.0,663.1 579.2,663.2 579.4,663.4 579.6,663.5 579.8,663.6 580.0,663.7 580.0,663.7 580.2,663.8 580.4,663.8 580.6,663.9 580.8,663.9 581.0,664.0 581.0,664.0 581.2,664.0 581.4,664.0 581.6,664.0 581.8,664.0 582.0,664.0 582.0,664.0 582.2,663.9 582.4,663.9 582.6,663.9 582.8,663.8 583.0,663.7 583.0,663.7 583.2,663.6 583.4,663.5 583.6,663.4 583.8,663.3 584.0,663.2 584.0,663.2 584.2,663.0 584.4,662.8 584.6,662.6 584.8,662.4 585.0,662.2 585.0,662.2 585.2,661.9 585.4,661.6 585.6,661.1 585.8,660.5 586.0,659.8 586.0,659.8 586.2,656.7 586.4,653.5 586.6,648.9 586.8,642.7 587.0,636.5 587.0,636.5 587.2,629.9 587.4,623.3 587.6,618.9 587.8,616.7 588.0,614.5 588.0,614.5 588.2,613.0 588.4,611.5 588.6,610.0 588.8,608.4 589.0,606.8 589.0,606.8 589.2,605.3 589.4,603.8 589.6,602.3 589.8,600.9 590.0,599.4 590.0,599.4 590.2,598.1 590.4,596.8 590.6,595.6 590.8,594.5 591.0,593.3 591.0,593.3 591.2,592.3 591.4,591.3 591.6,590.3 591.8,589.3 592.0,588.4 592.0,588.4 592.2,587.4 592.4,586.5 592.6,585.6 592.8,584.7 593.0,583.9 593.0,583.9 593.2,582.9 593.4,582.0 593.6,581.1 593.8,580.2 594.0,579.3 594.0,579.3 594.2,578.5 594.4,577.6 594.6,576.8 594.8,576.0 595.0,575.2 595.0,575.2 595.2,574.6 595.4,573.9 595.6,573.3 595.8,572.7 596.0,572.2 596.0,572.2 596.2,571.7 596.4,571.1 596.6,570.6 596.8,570.1 597.0,569.7 597.0,569.7 597.2,569.2 597.4,568.7 597.6,568.3 597.8,567.9 598.0,567.4 598.0,567.4 598.2,567.0 598.4,566.6 598.6,566.2 598.8,565.8 599.0,565.5 599.0,565.5 599.2,565.1 599.4,564.7 599.6,564.3 599.8,564.0 600.0,563.6 600.0,563.6 600.2,563.3 600.4,562.9 600.6,562.5 600.8,562.2 601.0,561.8 601.0,561.8 601.2,561.5 601.4,561.2 601.6,560.8 601.8,560.5 602.0,560.2 603.0,558.4 604.0,557.0 605.0,555.6 606.0,554.4 607.0,553.2 608.0,552.1 609.0,551.0 610.0,549.9 611.0,548.8 612.0,547.8 613.0,546.7 614.0,545.7 615.0,544.8 616.0,543.8 617.0,542.9 618.0,541.9 619.0,540.9 620.0,539.9 621.0,538.8 622.0,537.6 623.0,536.3 624.0,535.0 625.0,533.7 626.0,532.4 627.0,531.0 628.0,529.7 629.0,528.3 630.0,527.0 631.0,525.6 632.0,524.3 633.0,523.0 634.0,521.8 635.0,520.6 636.0,519.4 637.0,518.2 638.0,517.1 639.0,516.0 640.0,515.0 641.0,513.9 642.0,512.8 643.0,511.6 644.0,510.4 645.0,509.1 646.0,507.7 647.0,506.3 648.0,504.8 649.0,503.3 650.0,501.9 651.0,500.5 652.0,499.1 653.0,497.8 654.0,496.5 655.0,495.1 656.0,493.7 657.0,492.2 658.0,490.6 659.0,488.9 660.0,487.1 661.0,485.3 662.0,483.5 663.0,481.8 664.0,480.0 665.0,478.3 666.0,476.7 667.0,475.1 668.0,473.5 669.0,471.9 670.0,470.4 671.0,468.8 672.0,467.2 673.0,465.6 674.0,464.0 675.0,462.4 676.0,460.7 677.0,459.0 678.0,457.4 679.0,455.7 680.0,454.1 681.0,452.5 682.0,450.9 683.0,449.4 684.0,447.9 685.0,446.3 686.0,444.8 687.0,443.3 688.0,441.8 689.0,440.4 690.0,439.0 691.0,437.6 692.0,436.3 693.0,435.0 694.0,433.6 695.0,432.3 696.0,430.9 697.0,429.4 698.0,427.9 699.0,426.4 700.0,424.9 701.0,423.4 702.0,421.9 703.0,420.5 704.0,419.2 705.0,417.8 706.0,416.5 707.0,415.0 708.0,413.5 709.0,411.9 710.0,410.3 711.0,408.6 712.0,407.0 713.0,405.4 714.0,403.8 715.0,402.2 716.0,400.6 717.0,398.9 718.0,397.2 719.0,395.6 720.0,393.9 721.0,392.4 722.0,390.9 723.0,389.4 724.0,388.1 725.0,386.7 726.0,385.3 727.0,383.9 728.0,382.4 729.0,380.8 730.0,379.3 731.0,377.7 732.0,376.1 733.0,374.5 734.0,372.9 735.0,371.2 736.0,369.4 737.0,367.6 738.0,365.8 739.0,364.0 740.0,362.2 741.0,360.5 742.0,358.9 743.0,357.3 744.0,355.7 745.0,354.0 746.0,352.3 747.0,350.6 748.0,348.8 749.0,347.0 750.0,345.2 751.0,343.4 752.0,341.7 753.0,340.1 754.0,338.5 755.0,337.1 756.0,335.6 757.0,334.1 758.0,332.6 759.0,331.2 760.0,329.7 761.0,328.3 762.0,327.0 763.0,325.7 764.0,324.4 765.0,323.1 766.0,321.8 767.0,320.5 768.0,319.1 769.0,317.6 770.0,316.2 771.0,314.6 772.0,313.0 773.0,311.4 774.0,309.8 775.0,308.2 776.0,306.6 777.0,305.0 778.0,303.5 779.0,302.0 780.0,300.6 781.0,299.1 782.0,297.6 783.0,296.0 784.0,294.4 785.0,292.8 786.0,291.1 787.0,289.4 788.0,287.6 789.0,285.9 790.0,284.2 791.0,282.6 792.0,280.9 793.0,279.3 794.0,277.7 795.0,276.1 796.0,274.5 797.0,272.9 798.0,271.4 799.0,269.8 800.0,268.3 801.0,266.8 802.0,265.2 803.0,263.7 804.0,262.3 805.0,260.8 806.0,259.3 807.0,257.8 808.0,256.3 809.0,254.8 810.0,253.3 811.0,251.9 812.0,250.5 813.0,249.1 814.0,247.7 815.0,246.3 816.0,244.9 817.0,243.4 818.0,242.0 819.0,240.7 820.0,239.4 821.0,238.3 822.0,237.1 823.0,236.1 824.0,235.0 825.0,233.8 826.0,232.6 827.0,231.4 828.0,230.2 829.0,229.0 830.0,227.9 831.0,226.9 832.0,225.9 833.0,224.9 834.0,223.8 835.0,222.7 836.0,221.6 837.0,220.4 838.0,219.2 839.0,218.0 840.0,216.8 841.0,215.6 842.0,214.4 843.0,213.2 844.0,212.1 845.0,211.0 846.0,209.9 847.0,208.7 848.0,207.5 849.0,206.3 850.0,205.2 851.0,204.0 852.0,202.9 853.0,201.8 854.0,200.7 855.0,199.7 856.0,198.6 857.0,197.6 858.0,196.6 859.0,195.6 860.0,194.6 861.0,193.6 862.0,192.6 863.0,191.6 864.0,190.6 865.0,189.7 866.0,188.7 867.0,187.7 868.0,186.8 869.0,185.8 870.0,184.9 871.0,184.1 872.0,183.3 873.0,182.5 874.0,181.7 875.0,181.0 876.0,180.2 877.0,179.4 878.0,178.5 879.0,177.6 880.0,176.7 881.0,175.8 882.0,174.9 883.0,174.1 884.0,173.3 885.0,172.4 886.0,171.6 887.0,170.8 888.0,170.0 889.0,169.3 890.0,168.5 891.0,167.8 892.0,167.1 893.0,166.4 894.0,165.6 895.0,164.9 896.0,164.2 897.0,163.4 898.0,162.7 899.0,162.0 900.0,161.2 900.5,160.8 901.0,160.5 901.5,160.2 902.0,159.8 902.5,159.5 903.0,159.2 903.5,159.0 904.0,158.7 904.5,158.5 905.0,158.2 905.5,158.0 906.0,157.8 906.5,157.5 907.0,157.3 907.5,157.1 908.0,156.8 908.5,156.6 909.0,156.3 909.5,156.1 910.0,155.8 910.5,155.5 911.0,155.2 911.5,154.9 912.0,154.6 912.5,154.3 913.0,154.0 913.5,153.7 914.0,153.4 914.5,153.1 915.0,152.8 915.5,152.6 916.0,152.3 916.5,152.0 917.0,151.7 917.5,151.5 918.0,151.2 918.5,150.9 919.0,150.7 919.5,150.5 920.0,150.3 920.5,150.0 921.0,149.8 921.5,149.7 922.0,149.4 922.5,149.2 923.0,149.1 923.5,148.9 924.0,148.6 924.5,148.4 925.0,148.3 925.5,148.1 926.0,147.9 926.5,147.6 927.0,147.5 927.5,147.3 928.0,147.0 928.5,146.8 929.0,146.4 929.5,146.1 930.0,145.9 930.5,145.5 931.0,145.3 931.5,145.0 932.0,144.7 932.5,144.5 933.0,144.3 933.5,144.0 934.0,143.9 934.5,143.7 935.0,143.5 935.5,143.3 936.0,143.2 936.5,143.0 937.0,142.7 937.5,142.7 938.0,142.5 938.5,142.1 939.0,141.8 939.5,141.6 940.0,141.3 940.5,141.1 941.0,140.9 941.5,140.6 942.0,140.1 942.5,139.9 943.0,139.5 943.5,139.4 944.0,138.9 944.5,138.7 945.0,138.5 945.5,138.1 946.0,138.3 946.5,137.8 947.0,137.6 947.5,137.5 948.0,137.3 948.5,137.1 949.0,137.2 949.5,136.9 950.0,136.7 950.5,136.4 951.0,136.3 951.5,136.2 952.0,136.1 952.5,135.9 953.0,135.7 953.5,135.6 954.0,135.1 954.5,135.3 955.0,135.1 955.5,135.0 956.0,134.7 956.5,134.6 957.0,134.4 957.5,134.5 958.0,134.1 958.5,134.1 959.0,133.9 959.5,134.0 960.0,134.2 960.5,133.8 961.0,133.9 961.5,133.8 962.0,133.8 962.5,133.2 963.0,133.1 963.5,133.0 964.0,133.2 964.5,132.7 965.0,132.8 965.5,132.8 966.0,132.1 966.5,132.2 967.0,132.0 967.5,131.9 968.0,131.9 968.5,131.7 969.0,131.5 969.5,131.0 970.0,131.2 970.5,131.0 971.0,130.7 971.5,130.8 972.0,130.5 972.5,130.7 973.0,130.4 973.5,130.6 974.0,130.5 974.5,130.2 975.0,129.9 975.5,130.2 976.0,129.5 976.5,129.8 977.0,129.3 977.5,129.1 978.0,129.1 978.5,129.1 979.0,128.8 979.5,129.3 980.0,129.0 980.5,128.8 981.0,128.7 981.5,128.3 982.0,128.6 982.5,128.6 983.0,128.2 983.5,128.4 984.0,127.9 984.5,128.3 985.0,127.9 985.5,128.0 986.0,127.6 986.5,127.9 987.0,127.9 987.5,127.7 988.0,127.4 988.5,127.3 989.0,126.9 989.5,126.7 990.0,126.7 990.5,126.0 991.0,126.3 991.5,125.8 992.0,125.7 992.5,125.8 993.0,125.9 993.5,125.1 994.0,125.1 994.5,125.3 995.0,124.9 995.5,125.4 996.0,124.5 996.5,124.0 997.0,124.8 997.5,124.2 998.0,124.4 998.5,124.0 999.0,124.5 999.5,124.5 1000.0,124.3 1000.5,124.1 1001.0,124.3 1001.5,124.4 1002.0,125.2 1002.5,124.7 1003.0,124.6 1003.5,124.8 1004.0,124.7 1004.5,124.2 1005.0,124.6 1005.5,123.6 1006.0,124.7 1006.5,124.7 1007.0,124.5 1007.5,123.7 1008.0,124.3 1008.5,123.5 1009.0,123.3 1009.5,122.4 1010.0,122.9 1010.5,123.2 1011.0,123.4 1011.5,123.2 1012.0,123.4 1012.5,123.1 1013.0,122.5 1013.5,122.1 1014.0,122.6 1014.3,122.7"/>
<path stroke="#77AC30" d="M146.5,666.1 147.0,665.3 147.5,667.5 148.0,666.3 148.5,665.3 149.0,664.3 149.5,664.4 150.0,665.7 150.5,663.4 151.0,665.5 151.5,664.1 152.0,664.6 152.5,665.1 153.0,666.7 153.5,666.1 154.0,667.4 154.5,666.6 155.0,665.0 155.5,666.1 156.0,665.1 156.5,668.1 157.0,665.1 157.5,666.5 158.0,665.1 158.5,666.4 159.0,667.4 159.5,667.0 160.0,667.2 160.5,667.5 161.0,666.0 161.5,666.0 162.0,666.3 162.5,666.9 163.0,666.3 163.5,665.5 164.0,667.4 164.5,666.6 165.0,668.0 165.5,667.2 166.0,666.5 166.5,668.4 167.0,668.7 167.5,667.9 168.0,667.6 168.5,666.9 169.0,669.3 169.5,667.1 170.0,668.6 170.5,669.7 171.0,668.1 171.5,666.7 172.0,668.8 172.5,668.6 173.0,669.5 173.5,667.4 174.0,668.7 174.5,666.8 175.0,668.3 175.5,669.3 176.0,669.0 176.5,668.1 177.0,667.9 177.5,668.3 178.0,667.9 178.5,668.2 179.0,668.5 179.5,667.7 180.0,668.3 180.5,669.1 181.0,668.1 181.5,669.6 182.0,669.9 182.5,669.0 183.0,669.7 183.5,669.6 184.0,668.6 184.5,670.4 185.0,670.4 185.5,669.3 186.0,669.9 186.5,669.7 187.0,670.8 187.5,669.9 188.0,670.7 188.5,670.4 189.0,669.3 189.5,670.8 190.0,670.3 190.5,670.9 191.0,671.7 191.5,671.1 192.0,670.7 192.5,671.1 193.0,670.9 193.5,671.8 194.0,672.0 194.5,670.1 195.0,671.2 195.5,671.4 196.0,672.2 196.5,671.7 197.0,672.4 197.5,672.5 198.0,671.5 198.5,672.0 199.0,672.2 199.5,671.7 200.0,672.0 200.5,671.8 201.0,672.6 201.5,672.3 202.0,673.0 202.5,673.2 203.0,673.1 203.5,673.3 204.0,673.0 204.5,673.9 205.0,673.7 205.5,673.4 206.0,673.2 206.5,673.5 207.0,673.4 207.5,674.2 208.0,673.8 208.5,673.4 209.0,673.7 209.5,673.6 210.0,674.1 210.5,674.5 211.0,674.6 211.5,674.6 212.0,674.8 212.5,675.2 213.0,675.0 213.5,674.9 214.0,674.4 214.5,674.8 215.0,674.9 215.5,675.4 216.0,674.7 216.5,674.9 217.0,674.6 217.5,674.4 218.0,675.1 218.5,674.6 219.0,675.0 219.5,674.9 220.0,674.6 220.5,675.3 221.0,675.1 221.5,674.7 222.0,675.7 222.5,676.1 223.0,675.5 223.5,675.7 224.0,675.8 224.5,675.7 225.0,676.2 225.5,675.9 226.0,676.2 226.5,676.8 227.0,676.7 227.5,676.7 228.0,676.9 228.5,676.9 229.0,676.9 229.5,677.0 230.0,676.9 230.5,676.9 231.0,677.3 231.5,677.2 232.0,677.5 232.5,677.7 233.0,677.7 233.5,677.8 234.0,677.8 234.5,677.9 235.0,678.1 235.5,678.2 236.0,678.4 236.5,678.4 237.0,678.8 237.5,678.8 238.0,678.9 238.5,679.1 239.0,679.1 239.5,679.3 240.0,679.3 240.5,679.5 241.0,679.7 241.5,679.7 242.0,679.7 242.5,680.0 243.0,679.9 243.5,680.1 244.0,680.2 244.5,680.3 245.0,680.3 245.5,680.4 246.0,680.5 246.5,680.6 247.0,680.7 247.5,680.9 248.0,681.1 248.5,681.2 249.0,681.5 249.5,681.6 250.0,681.8 250.5,682.0 251.0,682.2 251.5,682.3 252.0,682.5 252.5,682.7 253.0,682.8 253.5,683.0 254.0,683.0 254.5,683.2 255.0,683.3 255.5,683.3 256.0,683.4 256.5,683.5 257.0,683.6 257.5,683.7 258.0,683.8 258.5,683.9 259.0,684.0 259.5,684.1 260.0,684.3 261.0,684.6 262.0,684.9 263.0,685.3 264.0,685.6 265.0,686.0 266.0,686.4 267.0,686.7 268.0,687.0 269.0,687.4 270.0,687.7 271.0,688.0 272.0,688.4 273.0,688.7 274.0,688.9 275.0,689.1 276.0,689.3 277.0,689.4 278.0,689.6 279.0,689.7 280.0,689.9 281.0,690.1 282.0,690.4 283.0,690.7 284.0,691.1 285.0,691.5 286.0,691.9 287.0,692.4 288.0,692.8 289.0,693.2 290.0,693.6 291.0,694.0 292.0,694.5 293.0,694.9 294.0,695.3 295.0,695.7 296.0,696.0 297.0,696.4 298.0,696.8 299.0,697.1 300.0,697.4 301.0,697.7 302.0,698.0 303.0,698.3 304.0,698.6 305.0,698.9 306.0,699.2 307.0,699.6 308.0,699.9 309.0,700.3 310.0,700.6 311.0,701.0 312.0,701.4 313.0,701.8 314.0,702.2 315.0,702.7 316.0,703.2 317.0,703.7 318.0,704.1 319.0,704.6 320.0,704.9 321.0,705.3 322.0,705.6 323.0,706.0 324.0,706.4 325.0,706.8 326.0,707.3 327.0,707.7 328.0,708.1 329.0,708.4 330.0,708.8 331.0,709.2 332.0,709.6 333.0,710.0 334.0,710.5 335.0,711.0 336.0,711.5 337.0,712.0 338.0,712.5 339.0,713.0 340.0,713.5 341.0,713.9 342.0,714.4 343.0,714.9 344.0,715.4 345.0,715.9 346.0,716.3 347.0,716.6 348.0,716.9 349.0,717.1 350.0,717.3 351.0,717.6 352.0,717.9 353.0,718.3 354.0,718.7 355.0,719.2 356.0,719.6 357.0,720.1 358.0,720.5 359.0,721.0 360.0,721.4 361.0,721.8 362.0,722.2 363.0,722.6 364.0,722.9 365.0,723.2 366.0,723.4 367.0,723.6 368.0,723.9 369.0,724.2 370.0,724.5 371.0,724.9 372.0,725.2 373.0,725.4 374.0,725.6 375.0,725.7 376.0,725.8 377.0,725.9 378.0,726.0 379.0,726.1 380.0,726.2 381.0,726.4 382.0,726.6 383.0,726.8 384.0,727.0 385.0,727.2 386.0,727.4 387.0,727.5 388.0,727.7 389.0,727.7 390.0,727.7 391.0,727.7 392.0,727.6 393.0,727.6 394.0,727.5 395.0,727.5 396.0,727.5 397.0,727.6 398.0,727.6 399.0,727.7 400.0,727.7 401.0,727.7 402.0,727.6 403.0,727.4 404.0,727.2 405.0,727.1 406.0,726.9 407.0,726.8 408.0,726.7 409.0,726.6 410.0,726.5 411.0,726.4 412.0,726.3 413.0,726.2 414.0,726.1 415.0,726.0 416.0,725.9 417.0,725.7 418.0,725.5 419.0,725.2 420.0,724.8 421.0,724.5 422.0,724.2 423.0,723.9 424.0,723.6 425.0,723.4 426.0,723.2 427.0,723.0 428.0,722.7 429.0,722.4 430.0,722.1 431.0,721.7 432.0,721.4 433.0,721.0 434.0,720.6 435.0,720.3 436.0,719.9 437.0,719.5 438.0,719.1 439.0,718.8 440.0,718.4 441.0,718.0 442.0,717.5 443.0,717.0 444.0,716.5 445.0,716.0 446.0,715.5 447.0,715.1 448.0,714.7 449.0,714.3 450.0,714.0 451.0,713.7 452.0,713.3 453.0,712.9 454.0,712.5 455.0,712.0 456.0,711.5 457.0,711.1 458.0,710.7 459.0,710.3 460.0,710.0 461.0,709.8 462.0,709.5 463.0,709.3 464.0,709.0 465.0,708.7 466.0,708.4 467.0,708.1 468.0,707.8 469.0,707.4 470.0,707.1 471.0,706.7 472.0,706.3 473.0,706.0 474.0,705.7 475.0,705.3 476.0,705.0 477.0,704.6 478.0,704.1 479.0,703.6 480.0,703.0 481.0,702.4 482.0,701.9 483.0,701.4 484.0,700.9 485.0,700.5 486.0,700.2 487.0,699.8 488.0,699.5 489.0,699.2 490.0,698.8 491.0,698.5 492.0,698.2 493.0,697.8 494.0,697.5 495.0,697.2 496.0,696.9 497.0,696.6 498.0,696.4 499.0,696.1 500.0,695.8 501.0,695.4 502.0,695.0 503.0,694.6 504.0,694.2 505.0,693.9 506.0,693.5 507.0,693.2 508.0,692.9 509.0,692.6 510.0,692.3 511.0,692.0 512.0,691.7 513.0,691.5 514.0,691.3 515.0,691.0 516.0,690.7 517.0,690.4 518.0,690.1 519.0,689.7 520.0,689.4 521.0,689.0 522.0,688.6 523.0,688.2 524.0,687.8 525.0,687.5 526.0,687.2 527.0,686.9 528.0,686.5 529.0,686.2 530.0,685.7 531.0,685.3 532.0,684.8 533.0,684.4 534.0,683.9 535.0,683.5 536.0,683.1 537.0,682.7 538.0,682.3 539.0,681.9 540.0,681.4 541.0,681.0 542.0,680.7 543.0,680.3 544.0,679.9 545.0,679.5 546.0,679.1 547.0,678.6 548.0,678.2 549.0,677.8 550.0,677.3 551.0,676.9 552.0,676.5 553.0,676.1 554.0,675.6 555.0,675.2 556.0,674.7 557.0,674.3 558.0,673.8 559.0,673.0 560.0,672.5 560.2,672.4 560.4,672.3 560.6,672.2 560.8,672.0 561.0,671.9 561.0,671.9 561.2,671.8 561.4,671.6 561.6,671.5 561.8,671.4 562.0,671.2 562.0,671.2 562.2,671.1 562.4,670.9 562.6,670.8 562.8,670.6 563.0,670.5 563.0,670.5 563.2,670.3 563.4,670.2 563.6,670.0 563.8,669.9 564.0,669.8 564.0,669.8 564.2,669.6 564.4,669.5 564.6,669.4 564.8,669.3 565.0,669.2 565.0,669.2 565.2,669.1 565.4,669.0 565.6,668.9 565.8,668.8 566.0,668.8 566.0,668.8 566.2,668.7 566.4,668.7 566.6,668.6 566.8,668.6 567.0,668.6 567.0,668.6 567.2,668.6 567.4,668.6 567.6,668.7 567.8,668.7 568.0,668.7 568.0,668.7 568.2,668.8 568.4,668.9 568.6,669.0 568.8,669.0 569.0,669.1 569.0,669.1 569.2,669.3 569.4,669.4 569.6,669.6 569.8,669.7 570.0,669.9 570.0,669.9 570.2,670.1 570.4,670.3 570.6,671.0 570.8,672.1 571.0,673.3 571.0,673.3 571.2,676.1 571.4,678.9 571.6,681.4 571.8,683.7 572.0,685.9 572.0,685.9 572.2,686.1 572.4,686.3 572.6,686.2 572.8,685.9 573.0,685.5 573.0,685.5 573.2,685.2 573.4,684.9 573.6,684.7 573.8,684.7 574.0,684.7 574.0,684.7 574.2,685.3 574.4,685.9 574.6,686.7 574.8,687.6 575.0,688.5 575.0,688.5 575.2,689.4 575.4,690.2 575.6,690.9 575.8,691.2 576.0,691.6 576.0,691.6 576.2,691.1 576.4,690.5 576.6,689.6 576.8,688.3 577.0,687.0 577.0,687.0 577.2,685.4 577.4,683.7 577.6,682.1 577.8,680.5 578.0,679.0 578.0,679.0 578.2,677.9 578.4,676.8 578.6,676.1 578.8,675.6 579.0,675.1 579.0,675.1 579.2,674.7 579.4,674.3 579.6,673.9 579.8,673.6 580.0,673.3 580.0,673.3 580.2,673.0 580.4,672.7 580.6,672.4 580.8,672.2 581.0,671.9 581.0,671.9 581.2,671.7 581.4,671.5 581.6,671.3 581.8,671.2 582.0,671.0 582.0,671.0 582.2,670.9 582.4,670.7 582.6,670.6 582.8,670.5 583.0,670.4 583.0,670.4 583.2,670.4 583.4,670.3 583.6,670.2 583.8,670.1 584.0,670.1 584.0,670.1 584.2,670.0 584.4,669.9 584.6,669.8 584.8,669.7 585.0,669.5 585.0,669.5 585.2,669.4 585.4,669.2 585.6,668.9 585.8,668.5 586.0,668.1 586.0,668.1 586.2,667.1 586.4,666.2 586.6,665.0 586.8,663.7 587.0,662.3 587.0,662.3 587.2,660.4 587.4,658.4 587.6,655.6 587.8,651.9 588.0,648.1 588.0,648.1 588.2,647.1 588.4,646.1 588.6,645.8 588.8,646.2 589.0,646.5 589.0,646.5 589.2,647.0 589.4,647.5 589.6,648.0 589.8,648.5 590.0,648.9 590.0,648.9 590.2,649.4 590.4,650.0 590.6,650.5 590.8,651.0 591.0,651.5 591.0,651.5 591.2,651.9 591.4,652.3 591.6,652.7 591.8,653.0 592.0,653.4 592.0,653.4 592.2,653.8 592.4,654.1 592.6,654.5 592.8,654.8 593.0,655.2 593.0,655.2 593.2,655.4 593.4,655.7 593.6,655.9 593.8,656.1 594.0,656.3 594.0,656.3 594.2,656.4 594.4,656.5 594.6,656.5 594.8,656.5 595.0,656.5 595.0,656.5 595.2,656.5 595.4,656.5 595.6,656.5 595.8,656.5 596.0,656.5 596.0,656.5 596.2,656.5 596.4,656.5 596.6,656.5 596.8,656.5 597.0,656.5 597.0,656.5 597.2,656.4 597.4,656.4 597.6,656.4 597.8,656.4 598.0,656.4 598.0,656.4 598.2,656.4 598.4,656.4 598.6,656.4 598.8,656.4 599.0,656.4 599.0,656.4 599.2,656.3 599.4,656.3 599.6,656.3 599.8,656.3 600.0,656.3 600.0,656.3 600.2,656.3 600.4,656.3 600.6,656.2 600.8,656.2 601.0,656.2 601.0,656.2 601.2,656.2 601.4,656.1 601.6,656.1 601.8,656.0 602.0,656.0 603.0,656.1 604.0,655.8 605.0,655.5 606.0,655.1 607.0,654.7 608.0,654.2 609.0,653.7 610.0,653.2 611.0,652.8 612.0,652.4 613.0,652.0 614.0,651.6 615.0,651.3 616.0,651.0 617.0,650.6 618.0,650.2 619.0,649.8 620.0,649.3 621.0,648.8 622.0,648.3 623.0,647.7 624.0,647.2 625.0,646.7 626.0,646.1 627.0,645.6 628.0,645.0 629.0,644.4 630.0,643.7 631.0,643.0 632.0,642.4 633.0,641.7 634.0,641.1 635.0,640.5 636.0,639.9 637.0,639.4 638.0,638.9 639.0,638.5 640.0,638.1 641.0,637.7 642.0,637.3 643.0,636.9 644.0,636.5 645.0,636.0 646.0,635.6 647.0,635.2 648.0,634.8 649.0,634.4 650.0,634.1 651.0,633.9 652.0,633.7 653.0,633.5 654.0,633.3 655.0,633.2 656.0,633.0 657.0,632.9 658.0,632.7 659.0,632.5 660.0,632.3 661.0,632.1 662.0,631.8 663.0,631.4 664.0,631.1 665.0,630.7 666.0,630.4 667.0,630.1 668.0,629.8 669.0,629.4 670.0,629.1 671.0,628.7 672.0,628.2 673.0,627.8 674.0,627.3 675.0,626.9 676.0,626.4 677.0,626.1 678.0,625.7 679.0,625.3 680.0,624.9 681.0,624.5 682.0,624.1 683.0,623.7 684.0,623.4 685.0,623.1 686.0,622.8 687.0,622.6 688.0,622.3 689.0,622.0 690.0,621.6 691.0,621.2 692.0,620.8 693.0,620.3 694.0,619.9 695.0,619.5 696.0,619.2 697.0,618.8 698.0,618.5 699.0,618.1 700.0,617.7 701.0,617.3 702.0,616.9 703.0,616.5 704.0,616.0 705.0,615.7 706.0,615.3 707.0,615.0 708.0,614.8 709.0,614.6 710.0,614.3 711.0,614.1 712.0,613.9 713.0,613.6 714.0,613.3 715.0,612.9 716.0,612.6 717.0,612.1 718.0,611.7 719.0,611.3 720.0,610.8 721.0,610.4 722.0,610.1 723.0,609.7 724.0,609.4 725.0,609.1 726.0,608.7 727.0,608.3 728.0,608.0 729.0,607.6 730.0,607.2 731.0,606.8 732.0,606.5 733.0,606.1 734.0,605.8 735.0,605.6 736.0,605.4 737.0,605.3 738.0,605.1 739.0,605.0 740.0,604.8 741.0,604.7 742.0,604.5 743.0,604.4 744.0,604.3 745.0,604.2 746.0,604.2 747.0,604.2 748.0,604.2 749.0,604.2 750.0,604.1 751.0,604.0 752.0,603.8 753.0,603.6 754.0,603.3 755.0,603.0 756.0,602.8 757.0,602.6 758.0,602.6 759.0,602.6 760.0,602.7 761.0,602.7 762.0,602.8 763.0,602.8 764.0,602.9 765.0,603.1 766.0,603.3 767.0,603.5 768.0,603.7 769.0,603.8 770.0,604.0 771.0,604.0 772.0,604.1 773.0,604.1 774.0,604.2 775.0,604.3 776.0,604.5 777.0,604.7 778.0,604.9 779.0,605.0 780.0,605.1 781.0,605.2 782.0,605.3 783.0,605.4 784.0,605.5 785.0,605.7 786.0,606.0 787.0,606.2 788.0,606.5 789.0,606.8 790.0,607.1 791.0,607.4 792.0,607.6 793.0,607.9 794.0,608.2 795.0,608.5 796.0,608.8 797.0,609.1 798.0,609.5 799.0,609.9 800.0,610.3 801.0,610.6 802.0,611.0 803.0,611.4 804.0,611.7 805.0,612.1 806.0,612.5 807.0,612.9 808.0,613.4 809.0,613.7 810.0,614.1 811.0,614.5 812.0,614.9 813.0,615.3 814.0,615.6 815.0,616.0 816.0,616.5 817.0,616.9 818.0,617.4 819.0,617.8 820.0,618.2 821.0,618.6 822.0,619.0 823.0,619.3 824.0,619.6 825.0,620.0 826.0,620.3 827.0,620.6 828.0,620.9 829.0,621.1 830.0,621.3 831.0,621.5 832.0,621.7 833.0,621.9 834.0,622.1 835.0,622.5 836.0,622.9 837.0,623.3 838.0,623.8 839.0,624.3 840.0,624.8 841.0,625.3 842.0,625.7 843.0,626.0 844.0,626.4 845.0,626.7 846.0,627.1 847.0,627.5 848.0,628.0 849.0,628.4 850.0,628.9 851.0,629.2 852.0,629.6 853.0,629.8 854.0,630.1 855.0,630.3 856.0,630.6 857.0,630.8 858.0,631.0 859.0,631.3 860.0,631.5 861.0,631.8 862.0,632.2 863.0,632.6 864.0,633.1 865.0,633.5 866.0,634.0 867.0,634.4 868.0,634.8 869.0,635.2 870.0,635.6 871.0,635.9 872.0,636.2 873.0,636.4 874.0,636.6 875.0,636.8 876.0,637.1 877.0,637.3 878.0,637.6 879.0,638.0 880.0,638.3 881.0,638.7 882.0,639.1 883.0,639.6 884.0,640.0 885.0,640.3 886.0,640.7 887.0,641.0 888.0,641.2 889.0,641.5 890.0,641.7 891.0,641.9 892.0,642.1 893.0,642.3 894.0,642.6 895.0,642.8 896.0,643.0 897.0,643.1 898.0,643.2 899.0,643.3 900.0,643.4 900.5,643.4 901.0,643.5 901.5,643.5 902.0,643.6 902.5,643.7 903.0,643.7 903.5,643.8 904.0,643.9 904.5,644.0 905.0,644.2 905.5,644.3 906.0,644.4 906.5,644.6 907.0,644.7 907.5,644.9 908.0,645.1 908.5,645.3 909.0,645.4 909.5,645.6 910.0,645.9 910.5,646.0 911.0,646.2 911.5,646.4 912.0,646.6 912.5,646.8 913.0,647.0 913.5,647.1 914.0,647.4 914.5,647.5 915.0,647.7 915.5,648.0 916.0,647.9 916.5,648.1 917.0,648.3 917.5,648.4 918.0,648.6 918.5,648.8 919.0,648.9 919.5,649.2 920.0,649.1 920.5,649.5 921.0,649.4 921.5,649.5 922.0,649.8 922.5,649.8 923.0,649.9 923.5,650.1 924.0,650.1 924.5,650.2 925.0,650.5 925.5,650.6 926.0,650.7 926.5,650.8 927.0,651.3 927.5,651.3 928.0,651.5 928.5,651.7 929.0,651.9 929.5,652.0 930.0,652.0 930.5,652.2 931.0,652.2 931.5,652.4 932.0,652.2 932.5,652.5 933.0,652.6 933.5,652.8 934.0,652.4 934.5,652.6 935.0,652.8 935.5,652.8 936.0,652.9 936.5,652.8 937.0,653.3 937.5,653.2 938.0,653.3 938.5,653.2 939.0,653.4 939.5,653.5 940.0,653.7 940.5,653.7 941.0,653.7 941.5,653.9 942.0,653.6 942.5,654.4 943.0,654.5 943.5,654.3 944.0,654.4 944.5,654.5 945.0,654.9 945.5,655.4 946.0,654.8 946.5,655.2 947.0,655.4 947.5,655.1 948.0,655.5 948.5,655.7 949.0,655.5 949.5,655.5 950.0,655.2 950.5,655.8 951.0,656.3 951.5,656.1 952.0,656.4 952.5,656.3 953.0,656.5 953.5,656.1 954.0,656.3 954.5,656.0 955.0,656.2 955.5,656.8 956.0,656.5 956.5,656.6 957.0,656.5 957.5,657.0 958.0,656.7 958.5,657.6 959.0,657.0 959.5,657.4 960.0,657.6 960.5,657.8 961.0,657.5 961.5,657.9 962.0,657.6 962.5,658.1 963.0,658.1 963.5,658.1 964.0,658.3 964.5,659.2 965.0,658.7 965.5,658.5 966.0,658.4 966.5,658.7 967.0,658.5 967.5,658.5 968.0,658.8 968.5,658.6 969.0,658.4 969.5,657.9 970.0,658.5 970.5,658.9 971.0,658.7 971.5,658.5 972.0,658.4 972.5,658.8 973.0,658.6 973.5,658.9 974.0,658.9 974.5,659.3 975.0,658.7 975.5,659.4 976.0,658.9 976.5,659.2 977.0,659.9 977.5,659.1 978.0,659.3 978.5,659.5 979.0,659.7 979.5,659.1 980.0,659.6 980.5,659.8 981.0,660.3 981.5,659.4 982.0,660.2 982.5,660.5 983.0,660.2 983.5,659.2 984.0,659.9 984.5,659.4 985.0,659.4 985.5,658.9 986.0,660.0 986.5,659.6 987.0,660.8 987.5,661.0 988.0,660.0 988.5,658.7 989.0,659.5 989.5,659.8 990.0,659.5 990.5,659.4 991.0,659.1 991.5,661.1 992.0,660.2 992.5,659.8 993.0,659.0 993.5,661.8 994.0,658.5 994.5,660.1 995.0,658.2 995.5,660.5 996.0,660.1 996.5,661.1 997.0,659.7 997.5,661.6 998.0,660.7 998.5,659.5 999.0,661.3 999.5,661.0 1000.0,661.7 1000.5,661.3 1001.0,661.0 1001.5,660.8 1002.0,659.4 1002.5,661.5 1003.0,662.0 1003.5,661.5 1004.0,661.2 1004.5,661.3 1005.0,661.5 1005.5,660.3 1006.0,662.5 1006.5,659.9 1007.0,662.3 1007.5,660.6 1008.0,660.5 1008.5,661.5 1009.0,661.6 1009.5,661.7 1010.0,661.9 1010.5,660.9 1011.0,660.7 1011.5,661.2 1012.0,661.1 1012.5,661.3 1013.0,660.3 1013.5,663.7 1014.0,661.7 1014.3,659.9"/>
<path stroke="#4DBEEE" d="M146.5,663.4 147.0,665.8 147.5,665.7 148.0,664.1 148.5,663.9 149.0,663.3 149.5,663.9 150.0,664.3 150.5,663.2 151.0,664.6 151.5,663.3 152.0,663.8 152.5,661.1 153.0,665.0 153.5,662.6 154.0,664.0 154.5,662.2 155.0,665.3 155.5,663.0 156.0,661.5 156.5,662.4 157.0,663.5 157.5,662.4 158.0,664.3 158.5,663.5 159.0,661.5 159.5,662.5 160.0,662.9 160.5,663.5 161.0,663.5 161.5,663.0 162.0,662.4 162.5,662.9 163.0,664.1 163.5,662.9 164.0,662.5 164.5,662.8 165.0,664.3 165.5,663.1 166.0,660.9 166.5,663.4 167.0,663.1 167.5,662.2 168.0,661.3 168.5,662.1 169.0,659.3 169.5,662.4 170.0,660.9 170.5,661.2 171.0,662.0 171.5,661.2 172.0,660.6 172.5,659.8 173.0,661.0 173.5,659.8 174.0,660.4 174.5,659.7 175.0,660.6 175.5,659.6 176.0,660.9 176.5,658.7 177.0,659.5 177.5,658.7 178.0,659.3 178.5,659.5 179.0,658.6 179.5,659.8 180.0,659.2 180.5,659.2 181.0,658.3 181.5,658.3 182.0,658.4 182.5,658.2 183.0,657.1 183.5,657.1 184.0,658.1 184.5,657.3 185.0,658.0 185.5,657.7 186.0,658.1 186.5,657.5 187.0,657.0 187.5,657.9 188.0,657.8 188.5,657.2 189.0,656.9 189.5,657.7 190.0,656.2 190.5,656.6 191.0,656.5 191.5,656.3 192.0,656.2 192.5,656.2 193.0,655.3 193.5,655.2 194.0,655.6 194.5,655.4 195.0,655.0 195.5,654.5 196.0,654.8 196.5,654.6 197.0,654.9 197.5,654.3 198.0,654.3 198.5,654.7 199.0,654.9 199.5,653.8 200.0,653.8 200.5,654.3 201.0,652.7 201.5,653.7 202.0,653.5 202.5,653.4 203.0,652.8 203.5,653.1 204.0,652.6 204.5,652.3 205.0,653.0 205.5,652.8 206.0,652.2 206.5,652.4 207.0,651.4 207.5,652.1 208.0,652.3 208.5,651.8 209.0,651.3 209.5,650.9 210.0,650.7 210.5,650.2 211.0,650.1 211.5,650.2 212.0,649.9 212.5,649.3 213.0,649.3 213.5,649.6 214.0,648.9 214.5,648.6 215.0,648.4 215.5,648.0 216.0,647.7 216.5,647.3 217.0,648.0 217.5,647.3 218.0,646.9 218.5,647.0 219.0,647.2 219.5,646.5 220.0,646.3 220.5,646.2 221.0,646.4 221.5,646.3 222.0,646.3 222.5,645.6 223.0,645.4 223.5,645.2 224.0,645.0 224.5,644.9 225.0,644.4 225.5,643.8 226.0,643.8 226.5,643.4 227.0,643.5 227.5,643.4 228.0,643.1 228.5,643.1 229.0,643.0 229.5,642.6 230.0,642.5 230.5,642.9 231.0,642.5 231.5,642.7 232.0,642.2 232.5,642.0 233.0,641.9 233.5,641.6 234.0,641.4 234.5,641.2 235.0,641.1 235.5,640.6 236.0,640.6 236.5,640.0 237.0,639.8 237.5,639.6 238.0,639.4 238.5,638.9 239.0,638.6 239.5,638.4 240.0,638.2 240.5,637.8 241.0,637.5 241.5,637.4 242.0,637.1 242.5,636.7 243.0,636.3 243.5,636.0 244.0,635.6 244.5,635.3 245.0,635.0 245.5,634.8 246.0,634.5 246.5,634.3 247.0,633.9 247.5,633.6 248.0,633.4 248.5,633.2 249.0,632.9 249.5,632.8 250.0,632.6 250.5,632.3 251.0,632.1 251.5,632.0 252.0,631.7 252.5,631.5 253.0,631.3 253.5,631.0 254.0,630.8 254.5,630.5 255.0,630.2 255.5,629.9 256.0,629.7 256.5,629.3 257.0,629.0 257.5,628.6 258.0,628.3 258.5,627.9 259.0,627.5 259.5,627.1 260.0,626.7 261.0,626.0 262.0,625.3 263.0,624.6 264.0,624.0 265.0,623.4 266.0,622.8 267.0,622.1 268.0,621.3 269.0,620.5 270.0,619.7 271.0,618.9 272.0,618.1 273.0,617.4 274.0,616.7 275.0,616.0 276.0,615.3 277.0,614.6 278.0,613.8 279.0,613.0 280.0,612.2 281.0,611.3 282.0,610.4 283.0,609.5 284.0,608.7 285.0,607.8 286.0,606.9 287.0,606.1 288.0,605.3 289.0,604.5 290.0,603.7 291.0,602.8 292.0,601.8 293.0,600.7 294.0,599.6 295.0,598.5 296.0,597.3 297.0,596.2 298.0,595.2 299.0,594.2 300.0,593.3 301.0,592.5 302.0,591.6 303.0,590.7 304.0,589.8 305.0,588.8 306.0,587.8 307.0,586.7 308.0,585.6 309.0,584.4 310.0,583.2 311.0,582.0 312.0,580.9 313.0,579.7 314.0,578.5 315.0,577.2 316.0,575.9 317.0,574.6 318.0,573.3 319.0,571.9 320.0,570.6 321.0,569.3 322.0,568.0 323.0,566.7 324.0,565.4 325.0,564.1 326.0,562.8 327.0,561.5 328.0,560.2 329.0,558.8 330.0,557.4 331.0,555.9 332.0,554.4 333.0,552.8 334.0,551.3 335.0,549.8 336.0,548.3 337.0,546.9 338.0,545.6 339.0,544.4 340.0,543.3 341.0,542.2 342.0,541.1 343.0,540.1 344.0,539.1 345.0,538.1 346.0,537.2 347.0,536.3 348.0,535.4 349.0,534.5 350.0,533.5 351.0,532.4 352.0,531.3 353.0,530.2 354.0,529.1 355.0,528.1 356.0,527.0 357.0,525.9 358.0,524.9 359.0,523.8 360.0,522.6 361.0,521.4 362.0,520.1 363.0,518.8 364.0,517.5 365.0,516.2 366.0,515.1 367.0,514.1 368.0,513.2 369.0,512.5 370.0,511.7 371.0,511.0 372.0,510.3 373.0,509.6 374.0,509.0 375.0,508.4 376.0,507.8 377.0,507.2 378.0,506.6 379.0,505.9 380.0,505.3 381.0,504.6 382.0,503.9 383.0,503.2 384.0,502.5 385.0,501.8 386.0,501.1 387.0,500.5 388.0,499.9 389.0,499.2 390.0,498.6 391.0,497.9 392.0,497.2 393.0,496.5 394.0,495.8 395.0,495.2 396.0,494.6 397.0,494.2 398.0,493.8 399.0,493.6 400.0,493.4 401.0,493.3 402.0,493.2 403.0,493.2 404.0,493.2 405.0,493.1 406.0,493.1 407.0,493.0 408.0,492.9 409.0,492.7 410.0,492.6 411.0,492.4 412.0,492.2 413.0,492.0 414.0,491.8 415.0,491.5 416.0,491.3 417.0,491.0 418.0,490.7 419.0,490.5 420.0,490.3 421.0,490.1 422.0,489.9 423.0,489.9 424.0,490.0 425.0,490.2 426.0,490.5 427.0,490.9 428.0,491.4 429.0,492.0 430.0,492.5 431.0,493.0 432.0,493.5 433.0,493.9 434.0,494.4 435.0,494.9 436.0,495.4 437.0,495.9 438.0,496.5 439.0,497.2 440.0,497.9 441.0,498.6 442.0,499.3 443.0,500.1 444.0,500.8 445.0,501.6 446.0,502.4 447.0,503.2 448.0,504.0 449.0,504.9 450.0,505.9 451.0,506.9 452.0,507.9 453.0,508.9 454.0,509.9 455.0,510.9 456.0,511.8 457.0,512.8 458.0,513.8 459.0,514.7 460.0,515.7 461.0,516.7 462.0,517.7 463.0,518.8 464.0,520.0 465.0,521.2 466.0,522.5 467.0,523.7 468.0,524.8 469.0,525.9 470.0,527.0 471.0,528.0 472.0,529.2 473.0,530.3 474.0,531.5 475.0,532.8 476.0,534.1 477.0,535.4 478.0,536.8 479.0,538.3 480.0,539.7 481.0,541.3 482.0,542.9 483.0,544.5 484.0,546.1 485.0,547.7 486.0,549.2 487.0,550.7 488.0,552.2 489.0,553.6 490.0,555.0 491.0,556.5 492.0,558.0 493.0,559.5 494.0,561.1 495.0,562.7 496.0,564.4 497.0,566.2 498.0,568.0 499.0,569.9 500.0,571.8 501.0,573.7 502.0,575.7 503.0,577.7 504.0,579.7 505.0,581.7 506.0,583.6 507.0,585.5 508.0,587.3 509.0,589.1 510.0,590.9 511.0,592.7 512.0,594.5 513.0,596.3 514.0,598.0 515.0,599.8 516.0,601.4 517.0,603.0 518.0,604.5 519.0,605.9 520.0,607.4 521.0,608.8 522.0,610.3 523.0,611.8 524.0,613.3 525.0,614.9 526.0,616.4 527.0,617.8 528.0,619.3 529.0,620.7 530.0,622.0 531.0,623.3 532.0,624.6 533.0,625.8 534.0,627.1 535.0,628.4 536.0,629.7 537.0,630.9 538.0,632.2 539.0,633.5 540.0,634.7 541.0,635.8 542.0,637.0 543.0,638.2 544.0,639.5 545.0,640.7 546.0,641.9 547.0,643.2 548.0,644.4 549.0,645.6 550.0,646.8 551.0,647.9 552.0,649.1 553.0,650.2 554.0,651.3 555.0,652.5 556.0,653.6 557.0,654.7 558.0,655.8 559.0,656.4 560.0,657.4 560.2,657.6 560.4,657.8 560.6,658.0 560.8,658.1 561.0,658.3 561.0,658.3 561.2,658.5 561.4,658.7 561.6,658.8 561.8,659.0 562.0,659.2 562.0,659.2 562.2,659.4 562.4,659.5 562.6,659.7 562.8,659.8 563.0,660.0 563.0,660.0 563.2,660.2 563.4,660.3 563.6,660.5 563.8,660.6 564.0,660.8 564.0,660.8 564.2,660.9 564.4,661.1 564.6,661.2 564.8,661.4 565.0,661.5 565.0,661.5 565.2,661.6 565.4,661.7 565.6,661.9 565.8,662.0 566.0,662.1 566.0,662.1 566.2,662.2 566.4,662.2 566.6,662.3 566.8,662.4 567.0,662.5 567.0,662.5 567.2,662.6 567.4,662.6 567.6,662.7 567.8,662.8 568.0,662.9 568.0,662.9 568.2,663.0 568.4,663.1 568.6,663.2 568.8,663.3 569.0,663.5 569.0,663.5 569.2,663.6 569.4,663.8 569.6,663.9 569.8,664.1 570.0,664.3 570.0,664.3 570.2,664.8 570.4,665.2 570.6,665.9 570.8,666.8 571.0,667.7 571.0,667.7 571.2,668.9 571.4,670.0 571.6,671.2 571.8,672.4 572.0,673.6 572.0,673.6 572.2,674.7 572.4,675.9 572.6,676.9 572.8,677.7 573.0,678.6 573.0,678.6 573.2,679.0 573.4,679.4 573.6,679.3 573.8,678.9 574.0,678.5 574.0,678.5 574.2,676.9 574.4,675.3 574.6,673.5 574.8,671.4 575.0,669.2 575.0,669.2 575.2,667.1 575.4,665.0 575.6,663.2 575.8,661.6 576.0,660.0 576.0,660.0 576.2,659.6 576.4,659.1 576.6,659.0 576.8,659.2 577.0,659.4 577.0,659.4 577.2,659.8 577.4,660.3 577.6,660.8 577.8,661.3 578.0,661.9 578.0,661.9 578.2,662.4 578.4,663.0 578.6,663.6 578.8,664.1 579.0,664.7 579.0,664.7 579.2,665.0 579.4,665.4 579.6,665.7 579.8,665.9 580.0,666.0 580.0,666.0 580.2,665.5 580.4,665.1 580.6,664.2 580.8,663.0 581.0,661.7 581.0,661.7 581.2,660.0 581.4,658.3 581.6,656.4 581.8,654.5 582.0,652.5 582.0,652.5 582.2,650.6 582.4,648.6 582.6,646.8 582.8,645.2 583.0,643.5 583.0,643.5 583.2,642.4 583.4,641.3 583.6,640.7 583.8,640.4 584.0,640.2 584.0,640.2 584.2,642.5 584.4,644.9 584.6,648.3 584.8,652.7 585.0,657.2 585.0,657.2 585.2,662.1 585.4,667.0 585.6,671.3 585.8,675.1 586.0,678.9 586.0,678.9 586.2,680.1 586.4,681.2 586.6,681.6 586.8,681.4 587.0,681.1 587.0,681.1 587.2,680.5 587.4,680.0 587.6,679.3 587.8,678.5 588.0,677.7 588.0,677.7 588.2,676.8 588.4,675.9 588.6,675.0 588.8,674.1 589.0,673.1 589.0,673.1 589.2,672.2 589.4,671.4 589.6,670.6 589.8,669.9 590.0,669.2 590.0,669.2 590.2,668.7 590.4,668.2 590.6,667.9 590.8,667.6 591.0,667.3 591.0,667.3 591.2,667.0 591.4,666.7 591.6,666.5 591.8,666.2 592.0,666.0 592.0,666.0 592.2,665.7 592.4,665.5 592.6,665.3 592.8,665.0 593.0,664.8 593.0,664.8 593.2,664.6 593.4,664.4 593.6,664.2 593.8,664.1 594.0,663.9 594.0,663.9 594.2,663.7 594.4,663.5 594.6,663.4 594.8,663.2 595.0,663.0 595.0,663.0 595.2,662.9 595.4,662.7 595.6,662.6 595.8,662.4 596.0,662.3 596.0,662.3 596.2,662.2 596.4,662.0 596.6,661.9 596.8,661.8 597.0,661.6 597.0,661.6 597.2,661.5 597.4,661.4 597.6,661.2 597.8,661.1 598.0,661.0 598.0,661.0 598.2,660.8 598.4,660.7 598.6,660.6 598.8,660.5 599.0,660.3 599.0,660.3 599.2,660.2 599.4,660.1 599.6,659.9 599.8,659.8 600.0,659.6 600.0,659.6 600.2,659.5 600.4,659.3 600.6,659.2 600.8,659.0 601.0,658.9 601.0,658.9 601.2,658.7 601.4,658.5 601.6,658.3 601.8,658.2 602.0,658.0 603.0,656.9 604.0,655.8 605.0,654.6 606.0,653.4 607.0,652.3 608.0,651.2 609.0,650.0 610.0,648.9 611.0,647.7 612.0,646.6 613.0,645.3 614.0,644.0 615.0,642.6 616.0,641.1 617.0,639.4 618.0,637.7 619.0,635.9 620.0,634.2 621.0,632.5 622.0,630.9 623.0,629.2 624.0,627.7 625.0,626.2 626.0,624.8 627.0,623.4 628.0,622.0 629.0,620.7 630.0,619.4 631.0,618.0 632.0,616.7 633.0,615.4 634.0,614.1 635.0,612.7 636.0,611.3 637.0,609.8 638.0,608.2 639.0,606.7 640.0,605.1 641.0,603.5 642.0,602.0 643.0,600.4 644.0,598.8 645.0,597.1 646.0,595.5 647.0,593.7 648.0,592.0 649.0,590.3 650.0,588.6 651.0,586.9 652.0,585.3 653.0,583.6 654.0,581.9 655.0,580.2 656.0,578.5 657.0,576.8 658.0,575.0 659.0,573.3 660.0,571.6 661.0,569.9 662.0,568.2 663.0,566.6 664.0,565.0 665.0,563.4 666.0,561.9 667.0,560.3 668.0,558.8 669.0,557.4 670.0,555.9 671.0,554.5 672.0,553.0 673.0,551.5 674.0,550.0 675.0,548.3 676.0,546.6 677.0,544.9 678.0,543.2 679.0,541.6 680.0,540.1 681.0,538.6 682.0,537.1 683.0,535.6 684.0,534.1 685.0,532.7 686.0,531.2 687.0,529.8 688.0,528.5 689.0,527.2 690.0,526.0 691.0,524.8 692.0,523.6 693.0,522.3 694.0,521.1 695.0,519.8 696.0,518.6 697.0,517.4 698.0,516.1 699.0,514.9 700.0,513.6 701.0,512.4 702.0,511.2 703.0,510.1 704.0,509.1 705.0,508.2 706.0,507.4 707.0,506.6 708.0,505.9 709.0,505.2 710.0,504.5 711.0,503.8 712.0,503.1 713.0,502.4 714.0,501.7 715.0,501.0 716.0,500.2 717.0,499.5 718.0,498.8 719.0,498.1 720.0,497.4 721.0,496.7 722.0,496.0 723.0,495.2 724.0,494.5 725.0,493.7 726.0,493.0 727.0,492.3 728.0,491.8 729.0,491.2 730.0,490.8 731.0,490.4 732.0,490.1 733.0,489.8 734.0,489.6 735.0,489.5 736.0,489.4 737.0,489.5 738.0,489.6 739.0,489.8 740.0,489.9 741.0,490.0 742.0,490.1 743.0,490.2 744.0,490.2 745.0,490.3 746.0,490.4 747.0,490.5 748.0,490.6 749.0,490.8 750.0,491.0 751.0,491.2 752.0,491.4 753.0,491.6 754.0,491.9 755.0,492.2 756.0,492.6 757.0,493.1 758.0,493.6 759.0,494.2 760.0,494.8 761.0,495.4 762.0,495.9 763.0,496.3 764.0,496.8 765.0,497.2 766.0,497.6 767.0,498.1 768.0,498.6 769.0,499.1 770.0,499.5 771.0,500.0 772.0,500.5 773.0,500.9 774.0,501.5 775.0,502.0 776.0,502.6 777.0,503.1 778.0,503.7 779.0,504.3 780.0,504.8 781.0,505.4 782.0,506.1 783.0,506.8 784.0,507.5 785.0,508.2 786.0,509.0 787.0,509.8 788.0,510.7 789.0,511.6 790.0,512.6 791.0,513.7 792.0,514.7 793.0,515.7 794.0,516.7 795.0,517.6 796.0,518.6 797.0,519.6 798.0,520.6 799.0,521.6 800.0,522.7 801.0,523.8 802.0,524.9 803.0,526.0 804.0,527.1 805.0,528.2 806.0,529.3 807.0,530.5 808.0,531.7 809.0,532.9 810.0,534.2 811.0,535.4 812.0,536.6 813.0,537.8 814.0,538.9 815.0,540.0 816.0,541.1 817.0,542.2 818.0,543.3 819.0,544.4 820.0,545.5 821.0,546.6 822.0,547.7 823.0,548.8 824.0,549.9 825.0,551.0 826.0,552.0 827.0,553.1 828.0,554.2 829.0,555.3 830.0,556.4 831.0,557.4 832.0,558.5 833.0,559.6 834.0,560.7 835.0,561.8 836.0,563.0 837.0,564.2 838.0,565.4 839.0,566.5 840.0,567.7 841.0,568.8 842.0,569.9 843.0,571.0 844.0,572.1 845.0,573.2 846.0,574.4 847.0,575.5 848.0,576.7 849.0,577.8 850.0,578.9 851.0,580.1 852.0,581.2 853.0,582.3 854.0,583.4 855.0,584.5 856.0,585.6 857.0,586.7 858.0,587.8 859.0,588.9 860.0,589.9 861.0,591.0 862.0,592.1 863.0,593.2 864.0,594.2 865.0,595.1 866.0,596.0 867.0,596.8 868.0,597.5 869.0,598.2 870.0,598.9 871.0,599.7 872.0,600.6 873.0,601.5 874.0,602.4 875.0,603.3 876.0,604.2 877.0,605.0 878.0,605.9 879.0,606.7 880.0,607.5 881.0,608.3 882.0,609.1 883.0,610.0 884.0,610.9 885.0,611.8 886.0,612.8 887.0,613.8 888.0,614.8 889.0,615.8 890.0,616.7 891.0,617.6 892.0,618.4 893.0,619.1 894.0,619.8 895.0,620.4 896.0,621.0 897.0,621.7 898.0,622.3 899.0,623.0 900.0,623.6 900.5,623.9 901.0,624.2 901.5,624.5 902.0,624.8 902.5,625.1 903.0,625.3 903.5,625.6 904.0,625.8 904.5,626.0 905.0,626.2 905.5,626.4 906.0,626.7 906.5,626.9 907.0,627.2 907.5,627.4 908.0,627.7 908.5,628.0 909.0,628.2 909.5,628.5 910.0,628.8 910.5,629.1 911.0,629.3 911.5,629.7 912.0,629.9 912.5,630.2 913.0,630.5 913.5,630.8 914.0,631.1 914.5,631.4 915.0,631.6 915.5,631.8 916.0,632.3 916.5,632.5 917.0,632.8 917.5,633.0 918.0,633.1 918.5,633.5 919.0,633.6 919.5,634.0 920.0,634.2 920.5,634.4 921.0,634.7 921.5,635.0 922.0,635.3 922.5,635.3 923.0,635.6 923.5,635.9 924.0,636.0 924.5,636.1 925.0,636.4 925.5,636.7 926.0,637.1 926.5,637.1 927.0,637.5 927.5,637.5 928.0,638.0 928.5,638.1 929.0,638.2 929.5,638.5 930.0,639.0 930.5,639.1 931.0,639.5 931.5,639.7 932.0,639.9 932.5,640.3 933.0,640.6 933.5,640.8 934.0,640.6 934.5,641.2 935.0,641.2 935.5,641.8 936.0,642.1 936.5,642.1 937.0,642.1 937.5,642.6 938.0,642.7 938.5,642.8 939.0,642.7 939.5,643.0 940.0,643.3 940.5,644.1 941.0,644.2 941.5,644.3 942.0,644.3 942.5,644.3 943.0,645.3 943.5,645.6 944.0,645.5 944.5,646.3 945.0,646.4 945.5,646.2 946.0,646.4 946.5,646.5 947.0,647.2 947.5,647.1 948.0,647.5 948.5,647.1 949.0,648.0 949.5,648.0 950.0,647.7 950.5,648.3 951.0,648.0 951.5,648.5 952.0,648.6 952.5,648.9 953.0,648.2 953.5,649.0 954.0,649.3 954.5,649.4 955.0,649.5 955.5,650.0 956.0,649.2 956.5,650.2 957.0,650.0 957.5,650.5 958.0,651.1 958.5,650.8 959.0,651.0 959.5,651.5 960.0,652.1 960.5,652.5 961.0,651.9 961.5,651.8 962.0,652.5 962.5,652.4 963.0,652.4 963.5,653.7 964.0,652.6 964.5,653.7 965.0,652.6 965.5,653.6 966.0,654.1 966.5,652.9 967.0,653.8 967.5,653.7 968.0,654.2 968.5,654.1 969.0,654.2 969.5,654.0 970.0,654.2 970.5,654.8 971.0,655.7 971.5,653.8 972.0,654.4 972.5,654.3 973.0,654.9 973.5,654.7 974.0,654.2 974.5,655.6 975.0,655.2 975.5,655.5 976.0,655.1 976.5,655.3 977.0,655.3 977.5,655.0 978.0,654.5 978.5,656.2 979.0,655.7 979.5,655.9 980.0,655.8 980.5,656.8 981.0,655.4 981.5,656.6 982.0,655.9 982.5,656.4 983.0,657.7 983.5,656.4 984.0,657.9 984.5,656.7 985.0,656.7 985.5,657.5 986.0,656.4 986.5,657.6 987.0,658.3 987.5,658.0 988.0,657.9 988.5,658.4 989.0,658.1 989.5,658.0 990.0,658.7 990.5,657.2 991.0,658.1 991.5,658.8 992.0,659.3 992.5,659.3 993.0,658.3 993.5,659.0 994.0,659.1 994.5,659.6 995.0,659.8 995.5,657.8 996.0,660.2 996.5,660.0 997.0,661.2 997.5,659.7 998.0,660.0 998.5,659.2 999.0,660.9 999.5,660.9 1000.0,661.3 1000.5,660.1 1001.0,660.5 1001.5,659.5 1002.0,661.3 1002.5,661.9 1003.0,661.9 1003.5,661.2 1004.0,659.8 1004.5,660.3 1005.0,660.1 1005.5,661.7 1006.0,660.3 1006.5,659.7 1007.0,660.9 1007.5,659.7 1008.0,661.1 1008.5,660.3 1009.0,660.9 1009.5,660.4 1010.0,661.9 1010.5,660.3 1011.0,659.2 1011.5,661.6 1012.0,661.8 1012.5,661.6 1013.0,660.9 1013.5,660.6 1014.0,660.3 1014.3,660.3"/>
</g>
<g class="tk" text-anchor="middle">
<text x="208.5" y="785.3">-30</text>
<text x="332.5" y="785.3">-20</text>
<text x="456.5" y="785.3">-10</text>
<text x="580.5" y="785.3">0</text>
<text x="704.5" y="785.3">10</text>
<text x="828.5" y="785.3">20</text>
<text x="952.5" y="785.3">30</text>
</g>
<g class="tk" text-anchor="end">
<text x="135.6" y="677.1">0</text>
<text x="135.6" y="567.5">20</text>
<text x="135.6" y="457.9">40</text>
<text x="135.6" y="348.3">60</text>
<text x="135.6" y="238.7">80</text>
<text x="135.6" y="129.1">100</text>
</g>
<text class="lb" text-anchor="middle" x="579.6" y="820.7">freq (kHz)</text>
<text class="lb" text-anchor="middle" transform="translate(76.0,405.0) rotate(-90)">percent signal</text>
<rect x="842.5" y="309.6" width="155.9" height="192.6" fill="#fff" stroke="#262626" stroke-width="1.3"/>
<path d="M849.4,328.4 H910.4" stroke="#0072BD" stroke-width="6.2" fill="none"/>
<text class="lg" x="915.4" y="337.0">(++)</text>
<path d="M849.4,359.4 H910.4" stroke="#D95319" stroke-width="6.2" fill="none"/>
<text class="lg" x="915.4" y="368.0">(+-)</text>
<path d="M849.4,390.4 H910.4" stroke="#EDB120" stroke-width="6.2" fill="none"/>
<text class="lg" x="915.4" y="399.0">(-+)</text>
<path d="M849.4,421.5 H910.4" stroke="#7E2F8E" stroke-width="6.2" fill="none"/>
<text class="lg" x="915.4" y="430.1">(--)</text>
<path d="M849.4,452.5 H910.4" stroke="#77AC30" stroke-width="6.2" fill="none"/>
<text class="lg" x="915.4" y="461.1">MTA</text>
<path d="M849.4,483.5 H910.4" stroke="#4DBEEE" stroke-width="6.2" fill="none"/>
<text class="lg" x="915.4" y="492.1">ihMTR</text>
</svg>
</body>
</html>
